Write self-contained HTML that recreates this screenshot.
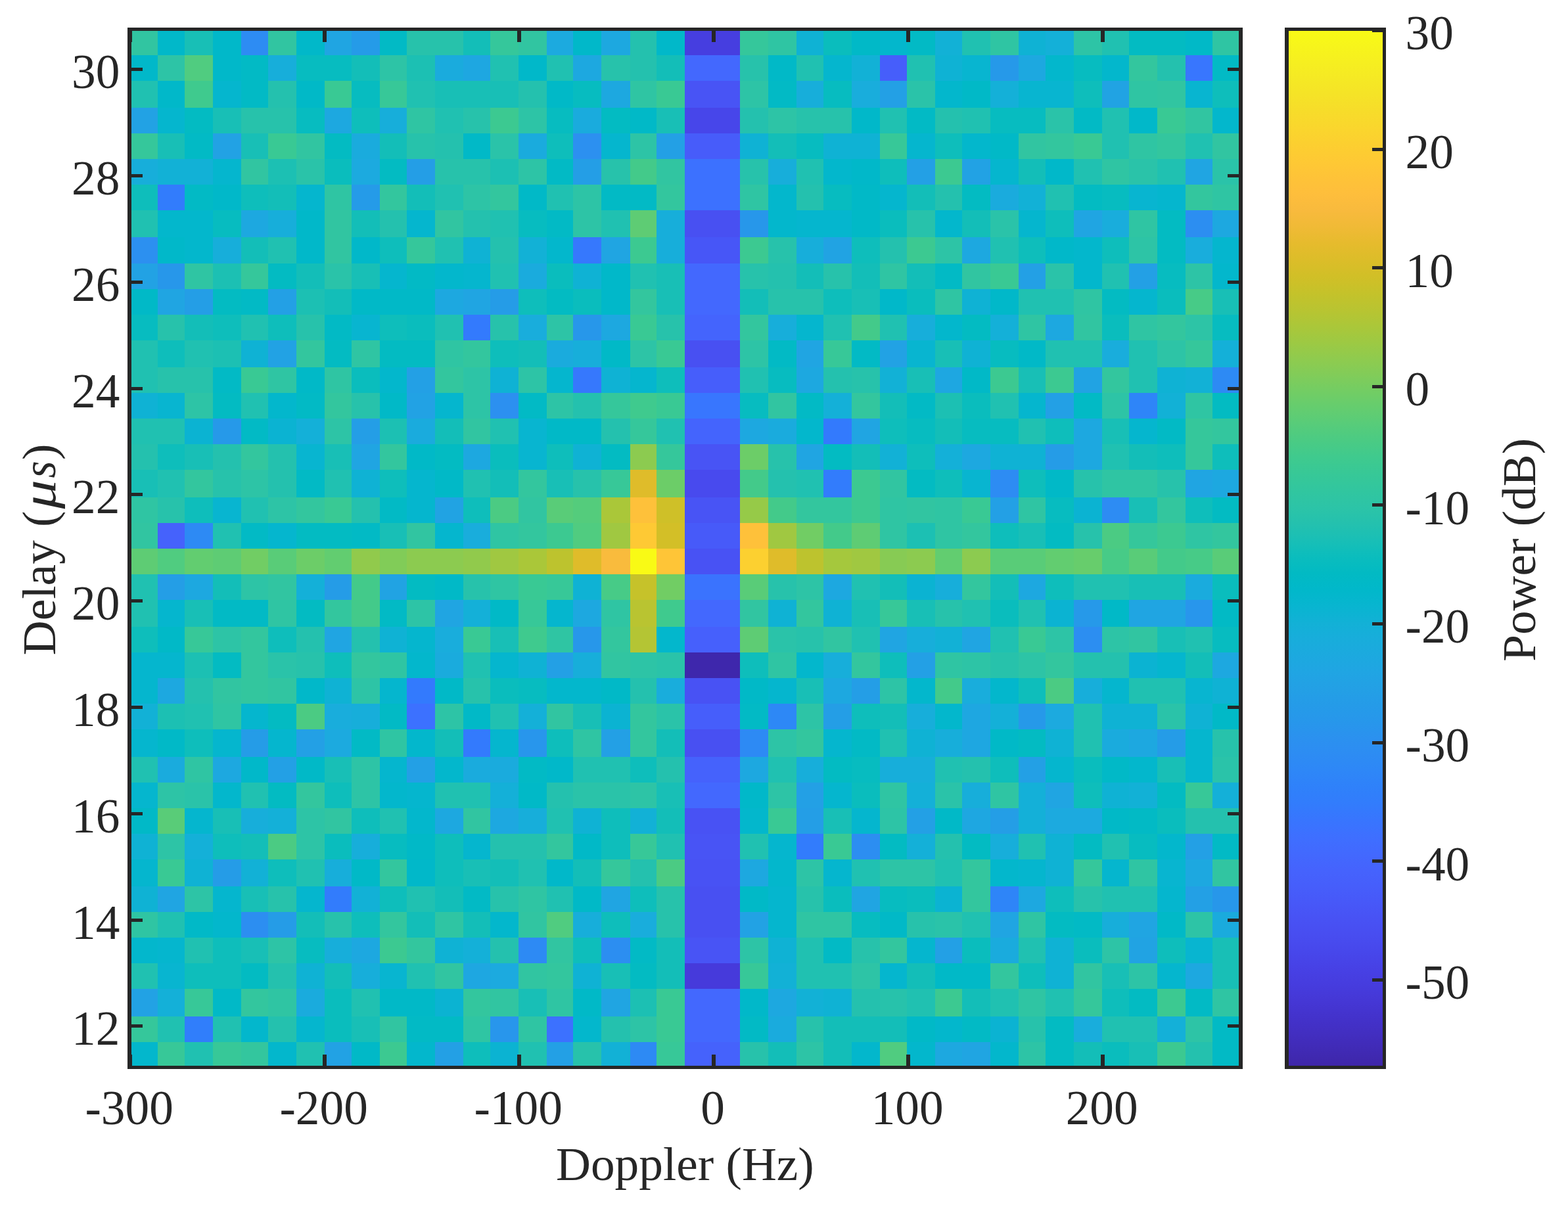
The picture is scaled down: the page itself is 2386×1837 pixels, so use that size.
<!DOCTYPE html>
<html lang="en"><head><meta charset="utf-8"><title>Delay-Doppler power map</title>
<style>
html,body{margin:0;padding:0;background:#fff;}
body{width:2386px;height:1837px;overflow:hidden;position:relative;}
svg{position:absolute;left:0;top:0;display:block;}
text{font-family:"Liberation Serif",serif;fill:#262626;}
.t{font-size:73.30px;}
.l{font-size:73.30px;}
.i{font-style:italic;}
</style></head><body>
<svg width="2386" height="1837" viewBox="0 0 2386 1837">
<rect x="0" y="0" width="2386" height="1837" fill="#fff"/>
<defs><linearGradient id="pg" x1="0" y1="1" x2="0" y2="0">
<stop offset="0.0000" stop-color="#3e26a8"/>
<stop offset="0.0159" stop-color="#402ab4"/>
<stop offset="0.0317" stop-color="#422ec0"/>
<stop offset="0.0476" stop-color="#4332cb"/>
<stop offset="0.0635" stop-color="#4537d5"/>
<stop offset="0.0794" stop-color="#463cde"/>
<stop offset="0.0952" stop-color="#4741e5"/>
<stop offset="0.1111" stop-color="#4747eb"/>
<stop offset="0.1270" stop-color="#484df0"/>
<stop offset="0.1429" stop-color="#4852f4"/>
<stop offset="0.1587" stop-color="#4758f8"/>
<stop offset="0.1746" stop-color="#465efb"/>
<stop offset="0.1905" stop-color="#4563fd"/>
<stop offset="0.2063" stop-color="#4269fe"/>
<stop offset="0.2222" stop-color="#3e6fff"/>
<stop offset="0.2381" stop-color="#3875fe"/>
<stop offset="0.2540" stop-color="#327cfc"/>
<stop offset="0.2698" stop-color="#2f81fa"/>
<stop offset="0.2857" stop-color="#2e87f7"/>
<stop offset="0.3016" stop-color="#2d8cf3"/>
<stop offset="0.3175" stop-color="#2b91ef"/>
<stop offset="0.3333" stop-color="#2797eb"/>
<stop offset="0.3492" stop-color="#259be8"/>
<stop offset="0.3651" stop-color="#23a0e5"/>
<stop offset="0.3810" stop-color="#20a5e3"/>
<stop offset="0.3968" stop-color="#1ca9df"/>
<stop offset="0.4127" stop-color="#18addb"/>
<stop offset="0.4286" stop-color="#12b1d6"/>
<stop offset="0.4444" stop-color="#08b5d0"/>
<stop offset="0.4603" stop-color="#01b8ca"/>
<stop offset="0.4762" stop-color="#02bac3"/>
<stop offset="0.4921" stop-color="#0bbdbd"/>
<stop offset="0.5079" stop-color="#19bfb6"/>
<stop offset="0.5238" stop-color="#24c1ae"/>
<stop offset="0.5397" stop-color="#2cc4a7"/>
<stop offset="0.5556" stop-color="#31c69f"/>
<stop offset="0.5714" stop-color="#37c897"/>
<stop offset="0.5873" stop-color="#3fca8e"/>
<stop offset="0.6032" stop-color="#4acb84"/>
<stop offset="0.6190" stop-color="#57cc7a"/>
<stop offset="0.6349" stop-color="#64cd6f"/>
<stop offset="0.6508" stop-color="#72cd64"/>
<stop offset="0.6667" stop-color="#81cc59"/>
<stop offset="0.6825" stop-color="#8fcb4e"/>
<stop offset="0.6984" stop-color="#9dc943"/>
<stop offset="0.7143" stop-color="#abc739"/>
<stop offset="0.7302" stop-color="#b9c431"/>
<stop offset="0.7460" stop-color="#c5c22a"/>
<stop offset="0.7619" stop-color="#d1bf27"/>
<stop offset="0.7778" stop-color="#dcbd29"/>
<stop offset="0.7937" stop-color="#e6bb2d"/>
<stop offset="0.8095" stop-color="#f0ba36"/>
<stop offset="0.8254" stop-color="#f8ba3d"/>
<stop offset="0.8413" stop-color="#febe3c"/>
<stop offset="0.8571" stop-color="#fec338"/>
<stop offset="0.8730" stop-color="#fec934"/>
<stop offset="0.8889" stop-color="#fccf30"/>
<stop offset="0.9048" stop-color="#fad62d"/>
<stop offset="0.9206" stop-color="#f7dc2a"/>
<stop offset="0.9365" stop-color="#f5e327"/>
<stop offset="0.9524" stop-color="#f5e924"/>
<stop offset="0.9683" stop-color="#f6ef20"/>
<stop offset="0.9841" stop-color="#f7f51b"/>
<stop offset="1.0000" stop-color="#f9fb15"/>
</linearGradient></defs>
<g shape-rendering="crispEdges">
<rect x="197" y="44" width="43" height="40" fill="#31c5a1"/>
<rect x="240" y="44" width="41" height="40" fill="#01b8c9"/>
<rect x="281" y="44" width="43" height="40" fill="#18bfb6"/>
<rect x="324" y="44" width="43" height="40" fill="#01b8c9"/>
<rect x="367" y="44" width="41" height="40" fill="#2d8cf3"/>
<rect x="408" y="44" width="43" height="40" fill="#31c5a1"/>
<rect x="451" y="44" width="43" height="40" fill="#01b8c9"/>
<rect x="494" y="44" width="41" height="40" fill="#20a5e2"/>
<rect x="535" y="44" width="43" height="40" fill="#259be8"/>
<rect x="578" y="44" width="41" height="40" fill="#02bac5"/>
<rect x="619" y="44" width="86" height="40" fill="#27c2ab"/>
<rect x="705" y="44" width="41" height="40" fill="#13beb8"/>
<rect x="746" y="44" width="43" height="40" fill="#35c79b"/>
<rect x="789" y="44" width="43" height="40" fill="#31c5a1"/>
<rect x="832" y="44" width="40" height="40" fill="#1caadf"/>
<rect x="872" y="44" width="43" height="40" fill="#01b8c9"/>
<rect x="915" y="44" width="44" height="40" fill="#1da8e0"/>
<rect x="959" y="44" width="40" height="40" fill="#24c1ae"/>
<rect x="999" y="44" width="43" height="40" fill="#01b8c9"/>
<rect x="1042" y="44" width="84" height="40" fill="#463ee0"/>
<rect x="1126" y="44" width="43" height="40" fill="#35c79b"/>
<rect x="1169" y="44" width="43" height="40" fill="#2fc5a3"/>
<rect x="1212" y="44" width="41" height="40" fill="#0fb2d4"/>
<rect x="1253" y="44" width="43" height="40" fill="#0abdbd"/>
<rect x="1296" y="44" width="43" height="40" fill="#01b9c7"/>
<rect x="1339" y="44" width="41" height="40" fill="#03b7cc"/>
<rect x="1380" y="44" width="43" height="40" fill="#02bac5"/>
<rect x="1423" y="44" width="41" height="40" fill="#12b1d6"/>
<rect x="1464" y="44" width="43" height="40" fill="#20c1b1"/>
<rect x="1507" y="44" width="43" height="40" fill="#2fc5a3"/>
<rect x="1550" y="44" width="41" height="40" fill="#0fb2d4"/>
<rect x="1591" y="44" width="43" height="40" fill="#14b0d8"/>
<rect x="1634" y="44" width="43" height="40" fill="#2dc4a6"/>
<rect x="1677" y="44" width="41" height="40" fill="#20c1b1"/>
<rect x="1718" y="44" width="86" height="40" fill="#03bbc2"/>
<rect x="1804" y="44" width="41" height="40" fill="#01b9c7"/>
<rect x="1845" y="44" width="43" height="40" fill="#2fc5a3"/>
<rect x="197" y="84" width="43" height="39" fill="#01b8c9"/>
<rect x="240" y="84" width="41" height="39" fill="#2dc4a6"/>
<rect x="281" y="84" width="43" height="39" fill="#50cc80"/>
<rect x="324" y="84" width="43" height="39" fill="#01b8c9"/>
<rect x="367" y="84" width="41" height="39" fill="#02bac5"/>
<rect x="408" y="84" width="43" height="39" fill="#17aeda"/>
<rect x="451" y="84" width="84" height="39" fill="#07bcc0"/>
<rect x="535" y="84" width="43" height="39" fill="#13beb8"/>
<rect x="578" y="84" width="41" height="39" fill="#2dc4a6"/>
<rect x="619" y="84" width="43" height="39" fill="#1cc0b3"/>
<rect x="662" y="84" width="43" height="39" fill="#1aabdd"/>
<rect x="705" y="84" width="41" height="39" fill="#1ea7e1"/>
<rect x="746" y="84" width="43" height="39" fill="#20c1b1"/>
<rect x="789" y="84" width="43" height="39" fill="#01b8c9"/>
<rect x="832" y="84" width="40" height="39" fill="#20c1b1"/>
<rect x="872" y="84" width="43" height="39" fill="#1da8e0"/>
<rect x="915" y="84" width="44" height="39" fill="#27c2ab"/>
<rect x="959" y="84" width="40" height="39" fill="#24c1ae"/>
<rect x="999" y="84" width="43" height="39" fill="#13beb8"/>
<rect x="1042" y="84" width="84" height="39" fill="#4368fe"/>
<rect x="1126" y="84" width="43" height="39" fill="#27c2ab"/>
<rect x="1169" y="84" width="43" height="39" fill="#01b9c7"/>
<rect x="1212" y="84" width="41" height="39" fill="#20c1b1"/>
<rect x="1253" y="84" width="43" height="39" fill="#05b6ce"/>
<rect x="1296" y="84" width="43" height="39" fill="#12b1d6"/>
<rect x="1339" y="84" width="41" height="39" fill="#465efb"/>
<rect x="1380" y="84" width="43" height="39" fill="#20c1b1"/>
<rect x="1423" y="84" width="41" height="39" fill="#0fb2d4"/>
<rect x="1464" y="84" width="43" height="39" fill="#08b5d0"/>
<rect x="1507" y="84" width="43" height="39" fill="#2699e9"/>
<rect x="1550" y="84" width="41" height="39" fill="#1da8e0"/>
<rect x="1591" y="84" width="43" height="39" fill="#03b7cc"/>
<rect x="1634" y="84" width="43" height="39" fill="#07bcc0"/>
<rect x="1677" y="84" width="41" height="39" fill="#03b7cc"/>
<rect x="1718" y="84" width="43" height="39" fill="#33c69e"/>
<rect x="1761" y="84" width="43" height="39" fill="#24c1ae"/>
<rect x="1804" y="84" width="41" height="39" fill="#3876fe"/>
<rect x="1845" y="84" width="43" height="39" fill="#02bac5"/>
<rect x="197" y="123" width="43" height="41" fill="#20c1b1"/>
<rect x="240" y="123" width="41" height="41" fill="#01b8c9"/>
<rect x="281" y="123" width="43" height="41" fill="#3fca8e"/>
<rect x="324" y="123" width="43" height="41" fill="#05b6ce"/>
<rect x="367" y="123" width="41" height="41" fill="#02bac5"/>
<rect x="408" y="123" width="43" height="41" fill="#24c1ae"/>
<rect x="451" y="123" width="43" height="41" fill="#01b9c7"/>
<rect x="494" y="123" width="41" height="41" fill="#39c994"/>
<rect x="535" y="123" width="43" height="41" fill="#07bcc0"/>
<rect x="578" y="123" width="41" height="41" fill="#37c898"/>
<rect x="619" y="123" width="43" height="41" fill="#20c1b1"/>
<rect x="662" y="123" width="127" height="41" fill="#18bfb6"/>
<rect x="789" y="123" width="43" height="41" fill="#24c1ae"/>
<rect x="832" y="123" width="40" height="41" fill="#01b9c7"/>
<rect x="872" y="123" width="43" height="41" fill="#07bcc0"/>
<rect x="915" y="123" width="44" height="41" fill="#1da8e0"/>
<rect x="959" y="123" width="40" height="41" fill="#2fc5a3"/>
<rect x="999" y="123" width="43" height="41" fill="#39c994"/>
<rect x="1042" y="123" width="84" height="41" fill="#4854f5"/>
<rect x="1126" y="123" width="43" height="41" fill="#2dc4a6"/>
<rect x="1169" y="123" width="43" height="41" fill="#02bac5"/>
<rect x="1212" y="123" width="41" height="41" fill="#17aeda"/>
<rect x="1253" y="123" width="43" height="41" fill="#07bcc0"/>
<rect x="1296" y="123" width="43" height="41" fill="#19addc"/>
<rect x="1339" y="123" width="41" height="41" fill="#23a0e5"/>
<rect x="1380" y="123" width="43" height="41" fill="#2ac3a9"/>
<rect x="1423" y="123" width="41" height="41" fill="#03b7cc"/>
<rect x="1464" y="123" width="43" height="41" fill="#01b9c7"/>
<rect x="1507" y="123" width="43" height="41" fill="#14b0d8"/>
<rect x="1550" y="123" width="84" height="41" fill="#08b5d0"/>
<rect x="1634" y="123" width="43" height="41" fill="#0ebebb"/>
<rect x="1677" y="123" width="41" height="41" fill="#21a3e3"/>
<rect x="1718" y="123" width="43" height="41" fill="#2fc5a3"/>
<rect x="1761" y="123" width="43" height="41" fill="#31c5a1"/>
<rect x="1804" y="123" width="41" height="41" fill="#08b5d0"/>
<rect x="1845" y="123" width="43" height="41" fill="#0ebebb"/>
<rect x="197" y="164" width="43" height="39" fill="#22a2e4"/>
<rect x="240" y="164" width="41" height="39" fill="#05b6ce"/>
<rect x="281" y="164" width="43" height="39" fill="#03bbc2"/>
<rect x="324" y="164" width="43" height="39" fill="#18bfb6"/>
<rect x="367" y="164" width="84" height="39" fill="#27c2ab"/>
<rect x="451" y="164" width="43" height="39" fill="#07bcc0"/>
<rect x="494" y="164" width="41" height="39" fill="#1da8e0"/>
<rect x="535" y="164" width="43" height="39" fill="#0ebebb"/>
<rect x="578" y="164" width="41" height="39" fill="#17aeda"/>
<rect x="619" y="164" width="43" height="39" fill="#2fc5a3"/>
<rect x="662" y="164" width="43" height="39" fill="#20c1b1"/>
<rect x="705" y="164" width="41" height="39" fill="#27c2ab"/>
<rect x="746" y="164" width="43" height="39" fill="#3cc991"/>
<rect x="789" y="164" width="43" height="39" fill="#2dc4a6"/>
<rect x="832" y="164" width="40" height="39" fill="#07bcc0"/>
<rect x="872" y="164" width="43" height="39" fill="#1aabdd"/>
<rect x="915" y="164" width="44" height="39" fill="#03bbc2"/>
<rect x="959" y="164" width="40" height="39" fill="#01b9c7"/>
<rect x="999" y="164" width="43" height="39" fill="#18bfb6"/>
<rect x="1042" y="164" width="84" height="39" fill="#4746ea"/>
<rect x="1126" y="164" width="43" height="39" fill="#24c1ae"/>
<rect x="1169" y="164" width="43" height="39" fill="#2dc4a6"/>
<rect x="1212" y="164" width="84" height="39" fill="#27c2ab"/>
<rect x="1296" y="164" width="43" height="39" fill="#01b8c9"/>
<rect x="1339" y="164" width="41" height="39" fill="#20c1b1"/>
<rect x="1380" y="164" width="43" height="39" fill="#02bac5"/>
<rect x="1423" y="164" width="41" height="39" fill="#24c1ae"/>
<rect x="1464" y="164" width="43" height="39" fill="#20c1b1"/>
<rect x="1507" y="164" width="84" height="39" fill="#07bcc0"/>
<rect x="1591" y="164" width="43" height="39" fill="#2ac3a9"/>
<rect x="1634" y="164" width="43" height="39" fill="#02bac5"/>
<rect x="1677" y="164" width="41" height="39" fill="#20c1b1"/>
<rect x="1718" y="164" width="43" height="39" fill="#01b8c9"/>
<rect x="1761" y="164" width="43" height="39" fill="#39c994"/>
<rect x="1804" y="164" width="41" height="39" fill="#31c5a1"/>
<rect x="1845" y="164" width="43" height="39" fill="#03b7cc"/>
<rect x="197" y="203" width="43" height="39" fill="#35c79b"/>
<rect x="240" y="203" width="41" height="39" fill="#18bfb6"/>
<rect x="281" y="203" width="43" height="39" fill="#02bac5"/>
<rect x="324" y="203" width="43" height="39" fill="#22a2e4"/>
<rect x="367" y="203" width="41" height="39" fill="#18bfb6"/>
<rect x="408" y="203" width="43" height="39" fill="#39c994"/>
<rect x="451" y="203" width="43" height="39" fill="#31c5a1"/>
<rect x="494" y="203" width="41" height="39" fill="#03bbc2"/>
<rect x="535" y="203" width="43" height="39" fill="#1aabdd"/>
<rect x="578" y="203" width="41" height="39" fill="#13beb8"/>
<rect x="619" y="203" width="43" height="39" fill="#27c2ab"/>
<rect x="662" y="203" width="43" height="39" fill="#24c1ae"/>
<rect x="705" y="203" width="41" height="39" fill="#01b9c7"/>
<rect x="746" y="203" width="43" height="39" fill="#2ac3a9"/>
<rect x="789" y="203" width="43" height="39" fill="#1aabdd"/>
<rect x="832" y="203" width="40" height="39" fill="#0ebebb"/>
<rect x="872" y="203" width="43" height="39" fill="#2c90f0"/>
<rect x="915" y="203" width="44" height="39" fill="#05b6ce"/>
<rect x="959" y="203" width="40" height="39" fill="#2dc4a6"/>
<rect x="999" y="203" width="43" height="39" fill="#23a0e5"/>
<rect x="1042" y="203" width="84" height="39" fill="#475cfa"/>
<rect x="1126" y="203" width="43" height="39" fill="#0fb2d4"/>
<rect x="1169" y="203" width="43" height="39" fill="#13beb8"/>
<rect x="1212" y="203" width="41" height="39" fill="#07bcc0"/>
<rect x="1253" y="203" width="86" height="39" fill="#0fb2d4"/>
<rect x="1339" y="203" width="41" height="39" fill="#37c898"/>
<rect x="1380" y="203" width="43" height="39" fill="#05b6ce"/>
<rect x="1423" y="203" width="41" height="39" fill="#0ebebb"/>
<rect x="1464" y="203" width="43" height="39" fill="#03b7cc"/>
<rect x="1507" y="203" width="43" height="39" fill="#01b9c7"/>
<rect x="1550" y="203" width="41" height="39" fill="#31c5a1"/>
<rect x="1591" y="203" width="43" height="39" fill="#33c69e"/>
<rect x="1634" y="203" width="43" height="39" fill="#39c994"/>
<rect x="1677" y="203" width="41" height="39" fill="#20c1b1"/>
<rect x="1718" y="203" width="43" height="39" fill="#2fc5a3"/>
<rect x="1761" y="203" width="43" height="39" fill="#33c69e"/>
<rect x="1804" y="203" width="41" height="39" fill="#20c1b1"/>
<rect x="1845" y="203" width="43" height="39" fill="#31c5a1"/>
<rect x="197" y="242" width="43" height="39" fill="#17aeda"/>
<rect x="240" y="242" width="84" height="39" fill="#12b1d6"/>
<rect x="324" y="242" width="43" height="39" fill="#05b6ce"/>
<rect x="367" y="242" width="41" height="39" fill="#31c5a1"/>
<rect x="408" y="242" width="43" height="39" fill="#1cc0b3"/>
<rect x="451" y="242" width="43" height="39" fill="#2ac3a9"/>
<rect x="494" y="242" width="41" height="39" fill="#0abdbd"/>
<rect x="535" y="242" width="43" height="39" fill="#1caadf"/>
<rect x="578" y="242" width="41" height="39" fill="#03bbc2"/>
<rect x="619" y="242" width="43" height="39" fill="#249ee6"/>
<rect x="662" y="242" width="84" height="39" fill="#27c2ab"/>
<rect x="746" y="242" width="43" height="39" fill="#1cc0b3"/>
<rect x="789" y="242" width="43" height="39" fill="#2dc4a6"/>
<rect x="832" y="242" width="40" height="39" fill="#02bac5"/>
<rect x="872" y="242" width="43" height="39" fill="#249ee6"/>
<rect x="915" y="242" width="44" height="39" fill="#27c2ab"/>
<rect x="959" y="242" width="40" height="39" fill="#43ca8a"/>
<rect x="999" y="242" width="43" height="39" fill="#31c5a1"/>
<rect x="1042" y="242" width="84" height="39" fill="#3c71ff"/>
<rect x="1126" y="242" width="43" height="39" fill="#27c2ab"/>
<rect x="1169" y="242" width="43" height="39" fill="#17aeda"/>
<rect x="1212" y="242" width="41" height="39" fill="#20c1b1"/>
<rect x="1253" y="242" width="43" height="39" fill="#03b7cc"/>
<rect x="1296" y="242" width="43" height="39" fill="#01b8c9"/>
<rect x="1339" y="242" width="41" height="39" fill="#0ebebb"/>
<rect x="1380" y="242" width="43" height="39" fill="#23a0e5"/>
<rect x="1423" y="242" width="41" height="39" fill="#3cc991"/>
<rect x="1464" y="242" width="43" height="39" fill="#22a2e4"/>
<rect x="1507" y="242" width="43" height="39" fill="#05b6ce"/>
<rect x="1550" y="242" width="41" height="39" fill="#13beb8"/>
<rect x="1591" y="242" width="43" height="39" fill="#01b8c9"/>
<rect x="1634" y="242" width="43" height="39" fill="#20c1b1"/>
<rect x="1677" y="242" width="41" height="39" fill="#2fc5a3"/>
<rect x="1718" y="242" width="43" height="39" fill="#2ac3a9"/>
<rect x="1761" y="242" width="43" height="39" fill="#20c1b1"/>
<rect x="1804" y="242" width="41" height="39" fill="#20a5e2"/>
<rect x="1845" y="242" width="43" height="39" fill="#2ac3a9"/>
<rect x="197" y="281" width="43" height="39" fill="#0ebebb"/>
<rect x="240" y="281" width="41" height="39" fill="#327cfc"/>
<rect x="281" y="281" width="43" height="39" fill="#02bac5"/>
<rect x="324" y="281" width="43" height="39" fill="#01b8c9"/>
<rect x="367" y="281" width="41" height="39" fill="#0ebebb"/>
<rect x="408" y="281" width="43" height="39" fill="#13beb8"/>
<rect x="451" y="281" width="43" height="39" fill="#05b6ce"/>
<rect x="494" y="281" width="41" height="39" fill="#2fc5a3"/>
<rect x="535" y="281" width="43" height="39" fill="#259be8"/>
<rect x="578" y="281" width="41" height="39" fill="#33c69e"/>
<rect x="619" y="281" width="43" height="39" fill="#13beb8"/>
<rect x="662" y="281" width="43" height="39" fill="#20c1b1"/>
<rect x="705" y="281" width="41" height="39" fill="#2dc4a6"/>
<rect x="746" y="281" width="43" height="39" fill="#33c69e"/>
<rect x="789" y="281" width="43" height="39" fill="#01b9c7"/>
<rect x="832" y="281" width="40" height="39" fill="#20c1b1"/>
<rect x="872" y="281" width="43" height="39" fill="#2dc4a6"/>
<rect x="915" y="281" width="84" height="39" fill="#02bac5"/>
<rect x="999" y="281" width="43" height="39" fill="#33c69e"/>
<rect x="1042" y="281" width="84" height="39" fill="#3c71ff"/>
<rect x="1126" y="281" width="43" height="39" fill="#2fc5a3"/>
<rect x="1169" y="281" width="43" height="39" fill="#03b7cc"/>
<rect x="1212" y="281" width="41" height="39" fill="#24c1ae"/>
<rect x="1253" y="281" width="43" height="39" fill="#07bcc0"/>
<rect x="1296" y="281" width="43" height="39" fill="#01b9c7"/>
<rect x="1339" y="281" width="41" height="39" fill="#05b6ce"/>
<rect x="1380" y="281" width="43" height="39" fill="#13beb8"/>
<rect x="1423" y="281" width="41" height="39" fill="#24c1ae"/>
<rect x="1464" y="281" width="43" height="39" fill="#03bbc2"/>
<rect x="1507" y="281" width="43" height="39" fill="#1aabdd"/>
<rect x="1550" y="281" width="41" height="39" fill="#12b1d6"/>
<rect x="1591" y="281" width="43" height="39" fill="#20c1b1"/>
<rect x="1634" y="281" width="43" height="39" fill="#03bbc2"/>
<rect x="1677" y="281" width="41" height="39" fill="#07bcc0"/>
<rect x="1718" y="281" width="43" height="39" fill="#08b5d0"/>
<rect x="1761" y="281" width="43" height="39" fill="#05b6ce"/>
<rect x="1804" y="281" width="41" height="39" fill="#33c69e"/>
<rect x="1845" y="281" width="43" height="39" fill="#2fc5a3"/>
<rect x="197" y="320" width="43" height="41" fill="#20c1b1"/>
<rect x="240" y="320" width="84" height="41" fill="#03b7cc"/>
<rect x="324" y="320" width="43" height="41" fill="#07bcc0"/>
<rect x="367" y="320" width="41" height="41" fill="#1da8e0"/>
<rect x="408" y="320" width="43" height="41" fill="#17aeda"/>
<rect x="451" y="320" width="43" height="41" fill="#01b8c9"/>
<rect x="494" y="320" width="41" height="41" fill="#31c5a1"/>
<rect x="535" y="320" width="43" height="41" fill="#13beb8"/>
<rect x="578" y="320" width="41" height="41" fill="#24c1ae"/>
<rect x="619" y="320" width="43" height="41" fill="#05b6ce"/>
<rect x="662" y="320" width="43" height="41" fill="#31c5a1"/>
<rect x="705" y="320" width="41" height="41" fill="#24c1ae"/>
<rect x="746" y="320" width="43" height="41" fill="#20c1b1"/>
<rect x="789" y="320" width="43" height="41" fill="#07bcc0"/>
<rect x="832" y="320" width="40" height="41" fill="#02bac5"/>
<rect x="872" y="320" width="43" height="41" fill="#2dc4a6"/>
<rect x="915" y="320" width="44" height="41" fill="#20c1b1"/>
<rect x="959" y="320" width="40" height="41" fill="#5ecc74"/>
<rect x="999" y="320" width="43" height="41" fill="#17aeda"/>
<rect x="1042" y="320" width="84" height="41" fill="#4850f2"/>
<rect x="1126" y="320" width="43" height="41" fill="#2797ea"/>
<rect x="1169" y="320" width="43" height="41" fill="#03b7cc"/>
<rect x="1212" y="320" width="84" height="41" fill="#05b6ce"/>
<rect x="1296" y="320" width="43" height="41" fill="#01b9c7"/>
<rect x="1339" y="320" width="41" height="41" fill="#0abdbd"/>
<rect x="1380" y="320" width="43" height="41" fill="#27c2ab"/>
<rect x="1423" y="320" width="41" height="41" fill="#03b7cc"/>
<rect x="1464" y="320" width="43" height="41" fill="#13beb8"/>
<rect x="1507" y="320" width="43" height="41" fill="#2ac3a9"/>
<rect x="1550" y="320" width="41" height="41" fill="#05b6ce"/>
<rect x="1591" y="320" width="43" height="41" fill="#0ebebb"/>
<rect x="1634" y="320" width="43" height="41" fill="#20a5e2"/>
<rect x="1677" y="320" width="41" height="41" fill="#19addc"/>
<rect x="1718" y="320" width="43" height="41" fill="#2fc5a3"/>
<rect x="1761" y="320" width="43" height="41" fill="#03bbc2"/>
<rect x="1804" y="320" width="41" height="41" fill="#2c8ef1"/>
<rect x="1845" y="320" width="43" height="41" fill="#1da8e0"/>
<rect x="197" y="361" width="43" height="40" fill="#2c90f0"/>
<rect x="240" y="361" width="41" height="40" fill="#01b8c9"/>
<rect x="281" y="361" width="43" height="40" fill="#03b7cc"/>
<rect x="324" y="361" width="43" height="40" fill="#17aeda"/>
<rect x="367" y="361" width="41" height="40" fill="#13beb8"/>
<rect x="408" y="361" width="43" height="40" fill="#20c1b1"/>
<rect x="451" y="361" width="43" height="40" fill="#01b8c9"/>
<rect x="494" y="361" width="41" height="40" fill="#31c5a1"/>
<rect x="535" y="361" width="43" height="40" fill="#01b8c9"/>
<rect x="578" y="361" width="41" height="40" fill="#0ebebb"/>
<rect x="619" y="361" width="43" height="40" fill="#35c79b"/>
<rect x="662" y="361" width="43" height="40" fill="#20c1b1"/>
<rect x="705" y="361" width="41" height="40" fill="#0fb2d4"/>
<rect x="746" y="361" width="43" height="40" fill="#24c1ae"/>
<rect x="789" y="361" width="43" height="40" fill="#12b1d6"/>
<rect x="832" y="361" width="40" height="40" fill="#03b7cc"/>
<rect x="872" y="361" width="43" height="40" fill="#3678fd"/>
<rect x="915" y="361" width="44" height="40" fill="#20a5e2"/>
<rect x="959" y="361" width="40" height="40" fill="#3cc991"/>
<rect x="999" y="361" width="43" height="40" fill="#17aeda"/>
<rect x="1042" y="361" width="84" height="40" fill="#4756f7"/>
<rect x="1126" y="361" width="43" height="40" fill="#3cc991"/>
<rect x="1169" y="361" width="43" height="40" fill="#27c2ab"/>
<rect x="1212" y="361" width="41" height="40" fill="#17aeda"/>
<rect x="1253" y="361" width="43" height="40" fill="#21a3e3"/>
<rect x="1296" y="361" width="43" height="40" fill="#0ebebb"/>
<rect x="1339" y="361" width="41" height="40" fill="#24c1ae"/>
<rect x="1380" y="361" width="43" height="40" fill="#3cc991"/>
<rect x="1423" y="361" width="41" height="40" fill="#2dc4a6"/>
<rect x="1464" y="361" width="43" height="40" fill="#1da8e0"/>
<rect x="1507" y="361" width="43" height="40" fill="#20c1b1"/>
<rect x="1550" y="361" width="41" height="40" fill="#0ebebb"/>
<rect x="1591" y="361" width="43" height="40" fill="#01b8c9"/>
<rect x="1634" y="361" width="43" height="40" fill="#03b7cc"/>
<rect x="1677" y="361" width="41" height="40" fill="#0ebebb"/>
<rect x="1718" y="361" width="43" height="40" fill="#2dc4a6"/>
<rect x="1761" y="361" width="43" height="40" fill="#03bbc2"/>
<rect x="1804" y="361" width="41" height="40" fill="#19addc"/>
<rect x="1845" y="361" width="43" height="40" fill="#05b6ce"/>
<rect x="197" y="401" width="43" height="39" fill="#22a2e4"/>
<rect x="240" y="401" width="41" height="39" fill="#2797ea"/>
<rect x="281" y="401" width="43" height="39" fill="#2fc5a3"/>
<rect x="324" y="401" width="43" height="39" fill="#1cc0b3"/>
<rect x="367" y="401" width="41" height="39" fill="#35c79b"/>
<rect x="408" y="401" width="43" height="39" fill="#03bbc2"/>
<rect x="451" y="401" width="43" height="39" fill="#13beb8"/>
<rect x="494" y="401" width="41" height="39" fill="#2ac3a9"/>
<rect x="535" y="401" width="43" height="39" fill="#18bfb6"/>
<rect x="578" y="401" width="41" height="39" fill="#05b6ce"/>
<rect x="619" y="401" width="43" height="39" fill="#02bac5"/>
<rect x="662" y="401" width="43" height="39" fill="#03b7cc"/>
<rect x="705" y="401" width="41" height="39" fill="#05b6ce"/>
<rect x="746" y="401" width="43" height="39" fill="#20c1b1"/>
<rect x="789" y="401" width="43" height="39" fill="#1aabdd"/>
<rect x="832" y="401" width="40" height="39" fill="#0abdbd"/>
<rect x="872" y="401" width="43" height="39" fill="#0fb2d4"/>
<rect x="915" y="401" width="44" height="39" fill="#01b8c9"/>
<rect x="959" y="401" width="40" height="39" fill="#20c1b1"/>
<rect x="999" y="401" width="43" height="39" fill="#18bfb6"/>
<rect x="1042" y="401" width="84" height="39" fill="#4368fe"/>
<rect x="1126" y="401" width="43" height="39" fill="#27c2ab"/>
<rect x="1169" y="401" width="43" height="39" fill="#24c1ae"/>
<rect x="1212" y="401" width="41" height="39" fill="#13beb8"/>
<rect x="1253" y="401" width="43" height="39" fill="#27c2ab"/>
<rect x="1296" y="401" width="43" height="39" fill="#13beb8"/>
<rect x="1339" y="401" width="41" height="39" fill="#2fc5a3"/>
<rect x="1380" y="401" width="43" height="39" fill="#13beb8"/>
<rect x="1423" y="401" width="41" height="39" fill="#02bac5"/>
<rect x="1464" y="401" width="43" height="39" fill="#31c5a1"/>
<rect x="1507" y="401" width="43" height="39" fill="#39c994"/>
<rect x="1550" y="401" width="41" height="39" fill="#23a0e5"/>
<rect x="1591" y="401" width="43" height="39" fill="#2ac3a9"/>
<rect x="1634" y="401" width="43" height="39" fill="#03b7cc"/>
<rect x="1677" y="401" width="41" height="39" fill="#20c1b1"/>
<rect x="1718" y="401" width="43" height="39" fill="#23a0e5"/>
<rect x="1761" y="401" width="43" height="39" fill="#07bcc0"/>
<rect x="1804" y="401" width="41" height="39" fill="#2dc4a6"/>
<rect x="1845" y="401" width="43" height="39" fill="#03b7cc"/>
<rect x="197" y="440" width="43" height="39" fill="#01b9c7"/>
<rect x="240" y="440" width="41" height="39" fill="#20a5e2"/>
<rect x="281" y="440" width="43" height="39" fill="#249ee6"/>
<rect x="324" y="440" width="43" height="39" fill="#03bbc2"/>
<rect x="367" y="440" width="41" height="39" fill="#02bac5"/>
<rect x="408" y="440" width="43" height="39" fill="#23a0e5"/>
<rect x="451" y="440" width="43" height="39" fill="#1cc0b3"/>
<rect x="494" y="440" width="41" height="39" fill="#13beb8"/>
<rect x="535" y="440" width="127" height="39" fill="#01b9c7"/>
<rect x="662" y="440" width="43" height="39" fill="#1da8e0"/>
<rect x="705" y="440" width="41" height="39" fill="#20a5e2"/>
<rect x="746" y="440" width="43" height="39" fill="#259ce7"/>
<rect x="789" y="440" width="43" height="39" fill="#0ebebb"/>
<rect x="832" y="440" width="40" height="39" fill="#03bbc2"/>
<rect x="872" y="440" width="43" height="39" fill="#0abdbd"/>
<rect x="915" y="440" width="44" height="39" fill="#01b8c9"/>
<rect x="959" y="440" width="40" height="39" fill="#33c69e"/>
<rect x="999" y="440" width="43" height="39" fill="#18bfb6"/>
<rect x="1042" y="440" width="84" height="39" fill="#4368fe"/>
<rect x="1126" y="440" width="43" height="39" fill="#13beb8"/>
<rect x="1169" y="440" width="84" height="39" fill="#27c2ab"/>
<rect x="1253" y="440" width="43" height="39" fill="#0ebebb"/>
<rect x="1296" y="440" width="43" height="39" fill="#18bfb6"/>
<rect x="1339" y="440" width="41" height="39" fill="#01b8c9"/>
<rect x="1380" y="440" width="43" height="39" fill="#0abdbd"/>
<rect x="1423" y="440" width="41" height="39" fill="#2fc5a3"/>
<rect x="1464" y="440" width="43" height="39" fill="#0fb2d4"/>
<rect x="1507" y="440" width="43" height="39" fill="#01b8c9"/>
<rect x="1550" y="440" width="84" height="39" fill="#20c1b1"/>
<rect x="1634" y="440" width="43" height="39" fill="#2fc5a3"/>
<rect x="1677" y="440" width="41" height="39" fill="#03bbc2"/>
<rect x="1718" y="440" width="43" height="39" fill="#05b6ce"/>
<rect x="1761" y="440" width="43" height="39" fill="#0abdbd"/>
<rect x="1804" y="440" width="41" height="39" fill="#47cb87"/>
<rect x="1845" y="440" width="43" height="39" fill="#18bfb6"/>
<rect x="197" y="479" width="43" height="39" fill="#07bcc0"/>
<rect x="240" y="479" width="41" height="39" fill="#27c2ab"/>
<rect x="281" y="479" width="43" height="39" fill="#13beb8"/>
<rect x="324" y="479" width="43" height="39" fill="#0ebebb"/>
<rect x="367" y="479" width="41" height="39" fill="#20c1b1"/>
<rect x="408" y="479" width="43" height="39" fill="#0ebebb"/>
<rect x="451" y="479" width="43" height="39" fill="#27c2ab"/>
<rect x="494" y="479" width="41" height="39" fill="#02bac5"/>
<rect x="535" y="479" width="43" height="39" fill="#08b5d0"/>
<rect x="578" y="479" width="41" height="39" fill="#0ebebb"/>
<rect x="619" y="479" width="43" height="39" fill="#0abdbd"/>
<rect x="662" y="479" width="43" height="39" fill="#20c1b1"/>
<rect x="705" y="479" width="41" height="39" fill="#337afd"/>
<rect x="746" y="479" width="43" height="39" fill="#27c2ab"/>
<rect x="789" y="479" width="43" height="39" fill="#19addc"/>
<rect x="832" y="479" width="40" height="39" fill="#2dc4a6"/>
<rect x="872" y="479" width="43" height="39" fill="#2797ea"/>
<rect x="915" y="479" width="44" height="39" fill="#1da8e0"/>
<rect x="959" y="479" width="40" height="39" fill="#39c994"/>
<rect x="999" y="479" width="43" height="39" fill="#27c2ab"/>
<rect x="1042" y="479" width="84" height="39" fill="#4464fd"/>
<rect x="1126" y="479" width="43" height="39" fill="#33c69e"/>
<rect x="1169" y="479" width="43" height="39" fill="#17aeda"/>
<rect x="1212" y="479" width="41" height="39" fill="#05b6ce"/>
<rect x="1253" y="479" width="43" height="39" fill="#20c1b1"/>
<rect x="1296" y="479" width="43" height="39" fill="#43ca8a"/>
<rect x="1339" y="479" width="41" height="39" fill="#20c1b1"/>
<rect x="1380" y="479" width="43" height="39" fill="#17aeda"/>
<rect x="1423" y="479" width="41" height="39" fill="#03b7cc"/>
<rect x="1464" y="479" width="43" height="39" fill="#03bbc2"/>
<rect x="1507" y="479" width="43" height="39" fill="#14b0d8"/>
<rect x="1550" y="479" width="41" height="39" fill="#2fc5a3"/>
<rect x="1591" y="479" width="43" height="39" fill="#1da8e0"/>
<rect x="1634" y="479" width="43" height="39" fill="#31c5a1"/>
<rect x="1677" y="479" width="41" height="39" fill="#0abdbd"/>
<rect x="1718" y="479" width="43" height="39" fill="#2fc5a3"/>
<rect x="1761" y="479" width="43" height="39" fill="#33c69e"/>
<rect x="1804" y="479" width="41" height="39" fill="#2dc4a6"/>
<rect x="1845" y="479" width="43" height="39" fill="#07bcc0"/>
<rect x="197" y="518" width="43" height="41" fill="#20c1b1"/>
<rect x="240" y="518" width="41" height="41" fill="#0ebebb"/>
<rect x="281" y="518" width="43" height="41" fill="#20c1b1"/>
<rect x="324" y="518" width="43" height="41" fill="#1cc0b3"/>
<rect x="367" y="518" width="41" height="41" fill="#0fb2d4"/>
<rect x="408" y="518" width="43" height="41" fill="#22a2e4"/>
<rect x="451" y="518" width="43" height="41" fill="#33c69e"/>
<rect x="494" y="518" width="41" height="41" fill="#03bbc2"/>
<rect x="535" y="518" width="43" height="41" fill="#2fc5a3"/>
<rect x="578" y="518" width="84" height="41" fill="#03bbc2"/>
<rect x="662" y="518" width="43" height="41" fill="#2fc5a3"/>
<rect x="705" y="518" width="41" height="41" fill="#33c69e"/>
<rect x="746" y="518" width="43" height="41" fill="#0ebebb"/>
<rect x="789" y="518" width="43" height="41" fill="#13beb8"/>
<rect x="832" y="518" width="40" height="41" fill="#1aabdd"/>
<rect x="872" y="518" width="43" height="41" fill="#17aeda"/>
<rect x="915" y="518" width="44" height="41" fill="#01b9c7"/>
<rect x="959" y="518" width="40" height="41" fill="#2dc4a6"/>
<rect x="999" y="518" width="43" height="41" fill="#39c994"/>
<rect x="1042" y="518" width="84" height="41" fill="#4850f2"/>
<rect x="1126" y="518" width="43" height="41" fill="#2dc4a6"/>
<rect x="1169" y="518" width="43" height="41" fill="#02bac5"/>
<rect x="1212" y="518" width="41" height="41" fill="#20a5e2"/>
<rect x="1253" y="518" width="43" height="41" fill="#37c898"/>
<rect x="1296" y="518" width="43" height="41" fill="#02bac5"/>
<rect x="1339" y="518" width="41" height="41" fill="#22a2e4"/>
<rect x="1380" y="518" width="43" height="41" fill="#08b5d0"/>
<rect x="1423" y="518" width="41" height="41" fill="#18bfb6"/>
<rect x="1464" y="518" width="43" height="41" fill="#0fb2d4"/>
<rect x="1507" y="518" width="43" height="41" fill="#07bcc0"/>
<rect x="1550" y="518" width="41" height="41" fill="#01b9c7"/>
<rect x="1591" y="518" width="86" height="41" fill="#20c1b1"/>
<rect x="1677" y="518" width="41" height="41" fill="#19addc"/>
<rect x="1718" y="518" width="43" height="41" fill="#20c1b1"/>
<rect x="1761" y="518" width="43" height="41" fill="#2dc4a6"/>
<rect x="1804" y="518" width="41" height="41" fill="#35c79b"/>
<rect x="1845" y="518" width="43" height="41" fill="#14b0d8"/>
<rect x="197" y="559" width="43" height="39" fill="#20c1b1"/>
<rect x="240" y="559" width="84" height="39" fill="#27c2ab"/>
<rect x="324" y="559" width="43" height="39" fill="#02bac5"/>
<rect x="367" y="559" width="41" height="39" fill="#39c994"/>
<rect x="408" y="559" width="43" height="39" fill="#2fc5a3"/>
<rect x="451" y="559" width="43" height="39" fill="#01b9c7"/>
<rect x="494" y="559" width="41" height="39" fill="#2fc5a3"/>
<rect x="535" y="559" width="43" height="39" fill="#0abdbd"/>
<rect x="578" y="559" width="41" height="39" fill="#03b7cc"/>
<rect x="619" y="559" width="43" height="39" fill="#23a0e5"/>
<rect x="662" y="559" width="43" height="39" fill="#33c69e"/>
<rect x="705" y="559" width="41" height="39" fill="#2dc4a6"/>
<rect x="746" y="559" width="43" height="39" fill="#0fb2d4"/>
<rect x="789" y="559" width="43" height="39" fill="#2dc4a6"/>
<rect x="832" y="559" width="40" height="39" fill="#05b6ce"/>
<rect x="872" y="559" width="43" height="39" fill="#3678fd"/>
<rect x="915" y="559" width="44" height="39" fill="#0fb2d4"/>
<rect x="959" y="559" width="40" height="39" fill="#05b6ce"/>
<rect x="999" y="559" width="43" height="39" fill="#0ebebb"/>
<rect x="1042" y="559" width="84" height="39" fill="#465efb"/>
<rect x="1126" y="559" width="43" height="39" fill="#20c1b1"/>
<rect x="1169" y="559" width="43" height="39" fill="#07bcc0"/>
<rect x="1212" y="559" width="41" height="39" fill="#1da8e0"/>
<rect x="1253" y="559" width="43" height="39" fill="#24c1ae"/>
<rect x="1296" y="559" width="43" height="39" fill="#27c2ab"/>
<rect x="1339" y="559" width="41" height="39" fill="#12b1d6"/>
<rect x="1380" y="559" width="43" height="39" fill="#18bfb6"/>
<rect x="1423" y="559" width="41" height="39" fill="#1ea7e1"/>
<rect x="1464" y="559" width="43" height="39" fill="#01b9c7"/>
<rect x="1507" y="559" width="43" height="39" fill="#3cc991"/>
<rect x="1550" y="559" width="41" height="39" fill="#18bfb6"/>
<rect x="1591" y="559" width="43" height="39" fill="#3cc991"/>
<rect x="1634" y="559" width="43" height="39" fill="#21a3e3"/>
<rect x="1677" y="559" width="41" height="39" fill="#33c69e"/>
<rect x="1718" y="559" width="43" height="39" fill="#20c1b1"/>
<rect x="1761" y="559" width="43" height="39" fill="#0fb2d4"/>
<rect x="1804" y="559" width="41" height="39" fill="#12b1d6"/>
<rect x="1845" y="559" width="43" height="39" fill="#2d8af4"/>
<rect x="197" y="598" width="43" height="39" fill="#0fb2d4"/>
<rect x="240" y="598" width="41" height="39" fill="#08b5d0"/>
<rect x="281" y="598" width="43" height="39" fill="#2dc4a6"/>
<rect x="324" y="598" width="43" height="39" fill="#03bbc2"/>
<rect x="367" y="598" width="41" height="39" fill="#20c1b1"/>
<rect x="408" y="598" width="43" height="39" fill="#03b7cc"/>
<rect x="451" y="598" width="43" height="39" fill="#02bac5"/>
<rect x="494" y="598" width="41" height="39" fill="#33c69e"/>
<rect x="535" y="598" width="43" height="39" fill="#27c2ab"/>
<rect x="578" y="598" width="41" height="39" fill="#01b9c7"/>
<rect x="619" y="598" width="43" height="39" fill="#22a2e4"/>
<rect x="662" y="598" width="43" height="39" fill="#05b6ce"/>
<rect x="705" y="598" width="41" height="39" fill="#2dc4a6"/>
<rect x="746" y="598" width="43" height="39" fill="#2c90f0"/>
<rect x="789" y="598" width="43" height="39" fill="#02bac5"/>
<rect x="832" y="598" width="40" height="39" fill="#2dc4a6"/>
<rect x="872" y="598" width="43" height="39" fill="#24c1ae"/>
<rect x="915" y="598" width="44" height="39" fill="#35c79b"/>
<rect x="959" y="598" width="40" height="39" fill="#3fca8e"/>
<rect x="999" y="598" width="43" height="39" fill="#39c994"/>
<rect x="1042" y="598" width="84" height="39" fill="#3876fe"/>
<rect x="1126" y="598" width="43" height="39" fill="#07bcc0"/>
<rect x="1169" y="598" width="43" height="39" fill="#31c5a1"/>
<rect x="1212" y="598" width="41" height="39" fill="#02bac5"/>
<rect x="1253" y="598" width="43" height="39" fill="#14b0d8"/>
<rect x="1296" y="598" width="43" height="39" fill="#33c69e"/>
<rect x="1339" y="598" width="41" height="39" fill="#13beb8"/>
<rect x="1380" y="598" width="43" height="39" fill="#02bac5"/>
<rect x="1423" y="598" width="41" height="39" fill="#1cc0b3"/>
<rect x="1464" y="598" width="43" height="39" fill="#0abdbd"/>
<rect x="1507" y="598" width="43" height="39" fill="#20c1b1"/>
<rect x="1550" y="598" width="41" height="39" fill="#05b6ce"/>
<rect x="1591" y="598" width="43" height="39" fill="#23a0e5"/>
<rect x="1634" y="598" width="43" height="39" fill="#02bac5"/>
<rect x="1677" y="598" width="41" height="39" fill="#2dc4a6"/>
<rect x="1718" y="598" width="43" height="39" fill="#2e85f8"/>
<rect x="1761" y="598" width="43" height="39" fill="#12b1d6"/>
<rect x="1804" y="598" width="41" height="39" fill="#2fc5a3"/>
<rect x="1845" y="598" width="43" height="39" fill="#03bbc2"/>
<rect x="197" y="637" width="84" height="39" fill="#20c1b1"/>
<rect x="281" y="637" width="43" height="39" fill="#0bb3d2"/>
<rect x="324" y="637" width="43" height="39" fill="#2699e9"/>
<rect x="367" y="637" width="41" height="39" fill="#02bac5"/>
<rect x="408" y="637" width="43" height="39" fill="#0bb3d2"/>
<rect x="451" y="637" width="43" height="39" fill="#14b0d8"/>
<rect x="494" y="637" width="41" height="39" fill="#2dc4a6"/>
<rect x="535" y="637" width="43" height="39" fill="#249ee6"/>
<rect x="578" y="637" width="41" height="39" fill="#1cc0b3"/>
<rect x="619" y="637" width="43" height="39" fill="#1aabdd"/>
<rect x="662" y="637" width="43" height="39" fill="#13beb8"/>
<rect x="705" y="637" width="41" height="39" fill="#31c5a1"/>
<rect x="746" y="637" width="43" height="39" fill="#20c1b1"/>
<rect x="789" y="637" width="43" height="39" fill="#08b5d0"/>
<rect x="832" y="637" width="83" height="39" fill="#01b9c7"/>
<rect x="915" y="637" width="44" height="39" fill="#24c1ae"/>
<rect x="959" y="637" width="40" height="39" fill="#35c79b"/>
<rect x="999" y="637" width="43" height="39" fill="#20c1b1"/>
<rect x="1042" y="637" width="84" height="39" fill="#4464fd"/>
<rect x="1126" y="637" width="43" height="39" fill="#1da8e0"/>
<rect x="1169" y="637" width="43" height="39" fill="#1aabdd"/>
<rect x="1212" y="637" width="41" height="39" fill="#03b7cc"/>
<rect x="1253" y="637" width="43" height="39" fill="#337afd"/>
<rect x="1296" y="637" width="43" height="39" fill="#20a5e2"/>
<rect x="1339" y="637" width="41" height="39" fill="#0ebebb"/>
<rect x="1380" y="637" width="43" height="39" fill="#07bcc0"/>
<rect x="1423" y="637" width="41" height="39" fill="#13beb8"/>
<rect x="1464" y="637" width="86" height="39" fill="#07bcc0"/>
<rect x="1550" y="637" width="41" height="39" fill="#20c1b1"/>
<rect x="1591" y="637" width="43" height="39" fill="#0ebebb"/>
<rect x="1634" y="637" width="43" height="39" fill="#1da8e0"/>
<rect x="1677" y="637" width="41" height="39" fill="#18bfb6"/>
<rect x="1718" y="637" width="43" height="39" fill="#05b6ce"/>
<rect x="1761" y="637" width="43" height="39" fill="#02bac5"/>
<rect x="1804" y="637" width="41" height="39" fill="#35c79b"/>
<rect x="1845" y="637" width="43" height="39" fill="#33c69e"/>
<rect x="197" y="676" width="43" height="39" fill="#24c1ae"/>
<rect x="240" y="676" width="41" height="39" fill="#0ebebb"/>
<rect x="281" y="676" width="43" height="39" fill="#18bfb6"/>
<rect x="324" y="676" width="43" height="39" fill="#24c1ae"/>
<rect x="367" y="676" width="41" height="39" fill="#33c69e"/>
<rect x="408" y="676" width="43" height="39" fill="#24c1ae"/>
<rect x="451" y="676" width="43" height="39" fill="#08b5d0"/>
<rect x="494" y="676" width="41" height="39" fill="#18bfb6"/>
<rect x="535" y="676" width="43" height="39" fill="#20a5e2"/>
<rect x="578" y="676" width="41" height="39" fill="#33c69e"/>
<rect x="619" y="676" width="43" height="39" fill="#01b9c7"/>
<rect x="662" y="676" width="43" height="39" fill="#03bbc2"/>
<rect x="705" y="676" width="41" height="39" fill="#1da8e0"/>
<rect x="746" y="676" width="43" height="39" fill="#0abdbd"/>
<rect x="789" y="676" width="43" height="39" fill="#08b5d0"/>
<rect x="832" y="676" width="40" height="39" fill="#0ebebb"/>
<rect x="872" y="676" width="43" height="39" fill="#0fb2d4"/>
<rect x="915" y="676" width="44" height="39" fill="#03bbc2"/>
<rect x="959" y="676" width="40" height="39" fill="#8ccb50"/>
<rect x="999" y="676" width="43" height="39" fill="#35c79b"/>
<rect x="1042" y="676" width="84" height="39" fill="#4854f5"/>
<rect x="1126" y="676" width="43" height="39" fill="#6ccd68"/>
<rect x="1169" y="676" width="43" height="39" fill="#27c2ab"/>
<rect x="1212" y="676" width="41" height="39" fill="#20a5e2"/>
<rect x="1253" y="676" width="43" height="39" fill="#03bbc2"/>
<rect x="1296" y="676" width="43" height="39" fill="#13beb8"/>
<rect x="1339" y="676" width="41" height="39" fill="#12b1d6"/>
<rect x="1380" y="676" width="43" height="39" fill="#0ebebb"/>
<rect x="1423" y="676" width="41" height="39" fill="#14b0d8"/>
<rect x="1464" y="676" width="43" height="39" fill="#1da8e0"/>
<rect x="1507" y="676" width="84" height="39" fill="#0fb2d4"/>
<rect x="1591" y="676" width="43" height="39" fill="#259ce7"/>
<rect x="1634" y="676" width="43" height="39" fill="#1da8e0"/>
<rect x="1677" y="676" width="41" height="39" fill="#20c1b1"/>
<rect x="1718" y="676" width="43" height="39" fill="#13beb8"/>
<rect x="1761" y="676" width="43" height="39" fill="#0ebebb"/>
<rect x="1804" y="676" width="41" height="39" fill="#35c79b"/>
<rect x="1845" y="676" width="43" height="39" fill="#0ebebb"/>
<rect x="197" y="715" width="43" height="42" fill="#18bfb6"/>
<rect x="240" y="715" width="41" height="42" fill="#20c1b1"/>
<rect x="281" y="715" width="43" height="42" fill="#33c69e"/>
<rect x="324" y="715" width="43" height="42" fill="#27c2ab"/>
<rect x="367" y="715" width="41" height="42" fill="#2dc4a6"/>
<rect x="408" y="715" width="43" height="42" fill="#24c1ae"/>
<rect x="451" y="715" width="43" height="42" fill="#02bac5"/>
<rect x="494" y="715" width="41" height="42" fill="#20c1b1"/>
<rect x="535" y="715" width="43" height="42" fill="#0fb2d4"/>
<rect x="578" y="715" width="41" height="42" fill="#0ebebb"/>
<rect x="619" y="715" width="43" height="42" fill="#05b6ce"/>
<rect x="662" y="715" width="43" height="42" fill="#01b9c7"/>
<rect x="705" y="715" width="41" height="42" fill="#20c1b1"/>
<rect x="746" y="715" width="43" height="42" fill="#13beb8"/>
<rect x="789" y="715" width="43" height="42" fill="#33c69e"/>
<rect x="832" y="715" width="40" height="42" fill="#18bfb6"/>
<rect x="872" y="715" width="43" height="42" fill="#27c2ab"/>
<rect x="915" y="715" width="44" height="42" fill="#37c898"/>
<rect x="959" y="715" width="40" height="42" fill="#dfbc2a"/>
<rect x="999" y="715" width="43" height="42" fill="#6ccd68"/>
<rect x="1042" y="715" width="84" height="42" fill="#484aee"/>
<rect x="1126" y="715" width="43" height="42" fill="#43ca8a"/>
<rect x="1169" y="715" width="43" height="42" fill="#24c1ae"/>
<rect x="1212" y="715" width="41" height="42" fill="#20c1b1"/>
<rect x="1253" y="715" width="43" height="42" fill="#327cfc"/>
<rect x="1296" y="715" width="43" height="42" fill="#3cc991"/>
<rect x="1339" y="715" width="41" height="42" fill="#31c5a1"/>
<rect x="1380" y="715" width="43" height="42" fill="#03bbc2"/>
<rect x="1423" y="715" width="41" height="42" fill="#0ebebb"/>
<rect x="1464" y="715" width="43" height="42" fill="#08b5d0"/>
<rect x="1507" y="715" width="43" height="42" fill="#2d8cf3"/>
<rect x="1550" y="715" width="41" height="42" fill="#0ebebb"/>
<rect x="1591" y="715" width="43" height="42" fill="#01b9c7"/>
<rect x="1634" y="715" width="43" height="42" fill="#27c2ab"/>
<rect x="1677" y="715" width="84" height="42" fill="#2fc5a3"/>
<rect x="1761" y="715" width="43" height="42" fill="#27c2ab"/>
<rect x="1804" y="715" width="41" height="42" fill="#20a5e2"/>
<rect x="1845" y="715" width="43" height="42" fill="#1da8e0"/>
<rect x="197" y="757" width="43" height="39" fill="#2fc5a3"/>
<rect x="240" y="757" width="41" height="39" fill="#27c2ab"/>
<rect x="281" y="757" width="43" height="39" fill="#0ebebb"/>
<rect x="324" y="757" width="43" height="39" fill="#08b5d0"/>
<rect x="367" y="757" width="41" height="39" fill="#20c1b1"/>
<rect x="408" y="757" width="43" height="39" fill="#2dc4a6"/>
<rect x="451" y="757" width="43" height="39" fill="#33c69e"/>
<rect x="494" y="757" width="41" height="39" fill="#39c994"/>
<rect x="535" y="757" width="43" height="39" fill="#24c1ae"/>
<rect x="578" y="757" width="41" height="39" fill="#02bac5"/>
<rect x="619" y="757" width="43" height="39" fill="#05b6ce"/>
<rect x="662" y="757" width="43" height="39" fill="#21a3e3"/>
<rect x="705" y="757" width="41" height="39" fill="#0ebebb"/>
<rect x="746" y="757" width="43" height="39" fill="#4bcb83"/>
<rect x="789" y="757" width="43" height="39" fill="#31c5a1"/>
<rect x="832" y="757" width="40" height="39" fill="#59cc78"/>
<rect x="872" y="757" width="43" height="39" fill="#54cc7c"/>
<rect x="915" y="757" width="44" height="39" fill="#aac739"/>
<rect x="959" y="757" width="40" height="39" fill="#fec13a"/>
<rect x="999" y="757" width="43" height="39" fill="#cfc028"/>
<rect x="1042" y="757" width="84" height="39" fill="#4854f5"/>
<rect x="1126" y="757" width="43" height="39" fill="#96ca48"/>
<rect x="1169" y="757" width="43" height="39" fill="#43ca8a"/>
<rect x="1212" y="757" width="84" height="39" fill="#33c69e"/>
<rect x="1296" y="757" width="43" height="39" fill="#3cc991"/>
<rect x="1339" y="757" width="41" height="39" fill="#2fc5a3"/>
<rect x="1380" y="757" width="43" height="39" fill="#31c5a1"/>
<rect x="1423" y="757" width="41" height="39" fill="#2fc5a3"/>
<rect x="1464" y="757" width="43" height="39" fill="#39c994"/>
<rect x="1507" y="757" width="43" height="39" fill="#23a0e5"/>
<rect x="1550" y="757" width="41" height="39" fill="#2fc5a3"/>
<rect x="1591" y="757" width="43" height="39" fill="#07bcc0"/>
<rect x="1634" y="757" width="43" height="39" fill="#0bb3d2"/>
<rect x="1677" y="757" width="41" height="39" fill="#2d8cf3"/>
<rect x="1718" y="757" width="43" height="39" fill="#18bfb6"/>
<rect x="1761" y="757" width="43" height="39" fill="#33c69e"/>
<rect x="1804" y="757" width="41" height="39" fill="#0ebebb"/>
<rect x="1845" y="757" width="43" height="39" fill="#03bbc2"/>
<rect x="197" y="796" width="43" height="39" fill="#31c5a1"/>
<rect x="240" y="796" width="41" height="39" fill="#4562fc"/>
<rect x="281" y="796" width="43" height="39" fill="#2d8af4"/>
<rect x="324" y="796" width="43" height="39" fill="#20c1b1"/>
<rect x="367" y="796" width="41" height="39" fill="#02bac5"/>
<rect x="408" y="796" width="43" height="39" fill="#05b6ce"/>
<rect x="451" y="796" width="84" height="39" fill="#03bbc2"/>
<rect x="535" y="796" width="43" height="39" fill="#02bac5"/>
<rect x="578" y="796" width="41" height="39" fill="#18bfb6"/>
<rect x="619" y="796" width="43" height="39" fill="#31c5a1"/>
<rect x="662" y="796" width="43" height="39" fill="#05b6ce"/>
<rect x="705" y="796" width="41" height="39" fill="#19addc"/>
<rect x="746" y="796" width="43" height="39" fill="#2fc5a3"/>
<rect x="789" y="796" width="43" height="39" fill="#33c69e"/>
<rect x="832" y="796" width="40" height="39" fill="#3cc991"/>
<rect x="872" y="796" width="43" height="39" fill="#50cc80"/>
<rect x="915" y="796" width="44" height="39" fill="#a0c841"/>
<rect x="959" y="796" width="40" height="39" fill="#fec934"/>
<rect x="999" y="796" width="43" height="39" fill="#d3bf27"/>
<rect x="1042" y="796" width="84" height="39" fill="#475af9"/>
<rect x="1126" y="796" width="43" height="39" fill="#fec13a"/>
<rect x="1169" y="796" width="43" height="39" fill="#a0c841"/>
<rect x="1212" y="796" width="41" height="39" fill="#71cd64"/>
<rect x="1253" y="796" width="43" height="39" fill="#43ca8a"/>
<rect x="1296" y="796" width="43" height="39" fill="#5ecc74"/>
<rect x="1339" y="796" width="41" height="39" fill="#2fc5a3"/>
<rect x="1380" y="796" width="43" height="39" fill="#1cc0b3"/>
<rect x="1423" y="796" width="41" height="39" fill="#2fc5a3"/>
<rect x="1464" y="796" width="43" height="39" fill="#33c69e"/>
<rect x="1507" y="796" width="43" height="39" fill="#0ebebb"/>
<rect x="1550" y="796" width="41" height="39" fill="#18bfb6"/>
<rect x="1591" y="796" width="43" height="39" fill="#03bbc2"/>
<rect x="1634" y="796" width="43" height="39" fill="#27c2ab"/>
<rect x="1677" y="796" width="41" height="39" fill="#4bcb83"/>
<rect x="1718" y="796" width="43" height="39" fill="#35c79b"/>
<rect x="1761" y="796" width="43" height="39" fill="#3cc991"/>
<rect x="1804" y="796" width="41" height="39" fill="#2fc5a3"/>
<rect x="1845" y="796" width="43" height="39" fill="#33c69e"/>
<rect x="197" y="835" width="43" height="39" fill="#5ecc74"/>
<rect x="240" y="835" width="41" height="39" fill="#50cc80"/>
<rect x="281" y="835" width="43" height="39" fill="#62cd70"/>
<rect x="324" y="835" width="43" height="39" fill="#5ecc74"/>
<rect x="367" y="835" width="41" height="39" fill="#71cd64"/>
<rect x="408" y="835" width="43" height="39" fill="#59cc78"/>
<rect x="451" y="835" width="43" height="39" fill="#6ccd68"/>
<rect x="494" y="835" width="41" height="39" fill="#62cd70"/>
<rect x="535" y="835" width="43" height="39" fill="#91ca4c"/>
<rect x="578" y="835" width="41" height="39" fill="#81cc58"/>
<rect x="619" y="835" width="86" height="39" fill="#8ccb50"/>
<rect x="705" y="835" width="41" height="39" fill="#91ca4c"/>
<rect x="746" y="835" width="43" height="39" fill="#a0c841"/>
<rect x="789" y="835" width="43" height="39" fill="#aac739"/>
<rect x="832" y="835" width="40" height="39" fill="#bdc32e"/>
<rect x="872" y="835" width="43" height="39" fill="#dfbc2a"/>
<rect x="915" y="835" width="44" height="39" fill="#f9bb3d"/>
<rect x="959" y="835" width="40" height="39" fill="#f9fa15"/>
<rect x="999" y="835" width="43" height="39" fill="#fec537"/>
<rect x="1042" y="835" width="84" height="39" fill="#4852f4"/>
<rect x="1126" y="835" width="43" height="39" fill="#fcd030"/>
<rect x="1169" y="835" width="43" height="39" fill="#dfbc2a"/>
<rect x="1212" y="835" width="41" height="39" fill="#bdc32e"/>
<rect x="1253" y="835" width="43" height="39" fill="#a5c83d"/>
<rect x="1296" y="835" width="43" height="39" fill="#a0c841"/>
<rect x="1339" y="835" width="41" height="39" fill="#87cb54"/>
<rect x="1380" y="835" width="43" height="39" fill="#8ccb50"/>
<rect x="1423" y="835" width="41" height="39" fill="#62cd70"/>
<rect x="1464" y="835" width="43" height="39" fill="#8ccb50"/>
<rect x="1507" y="835" width="84" height="39" fill="#59cc78"/>
<rect x="1591" y="835" width="43" height="39" fill="#62cd70"/>
<rect x="1634" y="835" width="43" height="39" fill="#67cd6c"/>
<rect x="1677" y="835" width="41" height="39" fill="#47cb87"/>
<rect x="1718" y="835" width="43" height="39" fill="#59cc78"/>
<rect x="1761" y="835" width="43" height="39" fill="#43ca8a"/>
<rect x="1804" y="835" width="41" height="39" fill="#47cb87"/>
<rect x="1845" y="835" width="43" height="39" fill="#59cc78"/>
<rect x="197" y="874" width="43" height="39" fill="#20c1b1"/>
<rect x="240" y="874" width="41" height="39" fill="#249ee6"/>
<rect x="281" y="874" width="43" height="39" fill="#1da8e0"/>
<rect x="324" y="874" width="43" height="39" fill="#13beb8"/>
<rect x="367" y="874" width="41" height="39" fill="#2dc4a6"/>
<rect x="408" y="874" width="43" height="39" fill="#31c5a1"/>
<rect x="451" y="874" width="43" height="39" fill="#14b0d8"/>
<rect x="494" y="874" width="41" height="39" fill="#259ce7"/>
<rect x="535" y="874" width="43" height="39" fill="#43ca8a"/>
<rect x="578" y="874" width="41" height="39" fill="#21a3e3"/>
<rect x="619" y="874" width="43" height="39" fill="#03bbc2"/>
<rect x="662" y="874" width="43" height="39" fill="#01b9c7"/>
<rect x="705" y="874" width="41" height="39" fill="#27c2ab"/>
<rect x="746" y="874" width="43" height="39" fill="#2fc5a3"/>
<rect x="789" y="874" width="43" height="39" fill="#39c994"/>
<rect x="832" y="874" width="40" height="39" fill="#37c898"/>
<rect x="872" y="874" width="43" height="39" fill="#0fb2d4"/>
<rect x="915" y="874" width="44" height="39" fill="#47cb87"/>
<rect x="959" y="874" width="40" height="39" fill="#c6c22a"/>
<rect x="999" y="874" width="43" height="39" fill="#71cd64"/>
<rect x="1042" y="874" width="84" height="39" fill="#3a73fe"/>
<rect x="1126" y="874" width="43" height="39" fill="#59cc78"/>
<rect x="1169" y="874" width="43" height="39" fill="#27c2ab"/>
<rect x="1212" y="874" width="41" height="39" fill="#2dc4a6"/>
<rect x="1253" y="874" width="43" height="39" fill="#1da8e0"/>
<rect x="1296" y="874" width="43" height="39" fill="#20c1b1"/>
<rect x="1339" y="874" width="41" height="39" fill="#13beb8"/>
<rect x="1380" y="874" width="43" height="39" fill="#0bb3d2"/>
<rect x="1423" y="874" width="41" height="39" fill="#17aeda"/>
<rect x="1464" y="874" width="43" height="39" fill="#33c69e"/>
<rect x="1507" y="874" width="43" height="39" fill="#13beb8"/>
<rect x="1550" y="874" width="41" height="39" fill="#1da8e0"/>
<rect x="1591" y="874" width="43" height="39" fill="#0ebebb"/>
<rect x="1634" y="874" width="84" height="39" fill="#20c1b1"/>
<rect x="1718" y="874" width="86" height="39" fill="#18bfb6"/>
<rect x="1804" y="874" width="41" height="39" fill="#1aabdd"/>
<rect x="1845" y="874" width="43" height="39" fill="#0abdbd"/>
<rect x="197" y="913" width="43" height="41" fill="#20c1b1"/>
<rect x="240" y="913" width="41" height="41" fill="#05b6ce"/>
<rect x="281" y="913" width="43" height="41" fill="#18bfb6"/>
<rect x="324" y="913" width="84" height="41" fill="#02bac5"/>
<rect x="408" y="913" width="43" height="41" fill="#2fc5a3"/>
<rect x="451" y="913" width="43" height="41" fill="#03bbc2"/>
<rect x="494" y="913" width="41" height="41" fill="#33c69e"/>
<rect x="535" y="913" width="43" height="41" fill="#43ca8a"/>
<rect x="578" y="913" width="41" height="41" fill="#02bac5"/>
<rect x="619" y="913" width="43" height="41" fill="#2dc4a6"/>
<rect x="662" y="913" width="43" height="41" fill="#20a5e2"/>
<rect x="705" y="913" width="41" height="41" fill="#14b0d8"/>
<rect x="746" y="913" width="43" height="41" fill="#01b9c7"/>
<rect x="789" y="913" width="43" height="41" fill="#37c898"/>
<rect x="832" y="913" width="40" height="41" fill="#05b6ce"/>
<rect x="872" y="913" width="43" height="41" fill="#1da8e0"/>
<rect x="915" y="913" width="44" height="41" fill="#2fc5a3"/>
<rect x="959" y="913" width="40" height="41" fill="#b9c431"/>
<rect x="999" y="913" width="43" height="41" fill="#3fca8e"/>
<rect x="1042" y="913" width="84" height="41" fill="#4368fe"/>
<rect x="1126" y="913" width="43" height="41" fill="#31c5a1"/>
<rect x="1169" y="913" width="43" height="41" fill="#0fb2d4"/>
<rect x="1212" y="913" width="41" height="41" fill="#33c69e"/>
<rect x="1253" y="913" width="43" height="41" fill="#0fb2d4"/>
<rect x="1296" y="913" width="43" height="41" fill="#18bfb6"/>
<rect x="1339" y="913" width="41" height="41" fill="#37c898"/>
<rect x="1380" y="913" width="43" height="41" fill="#18bfb6"/>
<rect x="1423" y="913" width="41" height="41" fill="#27c2ab"/>
<rect x="1464" y="913" width="43" height="41" fill="#20c1b1"/>
<rect x="1507" y="913" width="43" height="41" fill="#0abdbd"/>
<rect x="1550" y="913" width="41" height="41" fill="#20c1b1"/>
<rect x="1591" y="913" width="43" height="41" fill="#0bb3d2"/>
<rect x="1634" y="913" width="43" height="41" fill="#2699e9"/>
<rect x="1677" y="913" width="41" height="41" fill="#01b9c7"/>
<rect x="1718" y="913" width="86" height="41" fill="#20a5e2"/>
<rect x="1804" y="913" width="41" height="41" fill="#2896ec"/>
<rect x="1845" y="913" width="43" height="41" fill="#02bac5"/>
<rect x="197" y="954" width="43" height="39" fill="#0ebebb"/>
<rect x="240" y="954" width="41" height="39" fill="#01b9c7"/>
<rect x="281" y="954" width="43" height="39" fill="#37c898"/>
<rect x="324" y="954" width="43" height="39" fill="#2dc4a6"/>
<rect x="367" y="954" width="41" height="39" fill="#33c69e"/>
<rect x="408" y="954" width="43" height="39" fill="#0ebebb"/>
<rect x="451" y="954" width="43" height="39" fill="#24c1ae"/>
<rect x="494" y="954" width="41" height="39" fill="#20a5e2"/>
<rect x="535" y="954" width="43" height="39" fill="#24c1ae"/>
<rect x="578" y="954" width="41" height="39" fill="#0fb2d4"/>
<rect x="619" y="954" width="43" height="39" fill="#05b6ce"/>
<rect x="662" y="954" width="43" height="39" fill="#19addc"/>
<rect x="705" y="954" width="41" height="39" fill="#39c994"/>
<rect x="746" y="954" width="43" height="39" fill="#18bfb6"/>
<rect x="789" y="954" width="43" height="39" fill="#3fca8e"/>
<rect x="832" y="954" width="40" height="39" fill="#2fc5a3"/>
<rect x="872" y="954" width="43" height="39" fill="#2797ea"/>
<rect x="915" y="954" width="44" height="39" fill="#33c69e"/>
<rect x="959" y="954" width="40" height="39" fill="#b4c534"/>
<rect x="999" y="954" width="43" height="39" fill="#03b7cc"/>
<rect x="1042" y="954" width="84" height="39" fill="#4660fc"/>
<rect x="1126" y="954" width="43" height="39" fill="#5ecc74"/>
<rect x="1169" y="954" width="43" height="39" fill="#2ac3a9"/>
<rect x="1212" y="954" width="41" height="39" fill="#27c2ab"/>
<rect x="1253" y="954" width="43" height="39" fill="#31c5a1"/>
<rect x="1296" y="954" width="43" height="39" fill="#20c1b1"/>
<rect x="1339" y="954" width="41" height="39" fill="#20a5e2"/>
<rect x="1380" y="954" width="43" height="39" fill="#17aeda"/>
<rect x="1423" y="954" width="41" height="39" fill="#12b1d6"/>
<rect x="1464" y="954" width="43" height="39" fill="#20a5e2"/>
<rect x="1507" y="954" width="43" height="39" fill="#20c1b1"/>
<rect x="1550" y="954" width="41" height="39" fill="#39c994"/>
<rect x="1591" y="954" width="43" height="39" fill="#2dc4a6"/>
<rect x="1634" y="954" width="43" height="39" fill="#2c8ef1"/>
<rect x="1677" y="954" width="41" height="39" fill="#2dc4a6"/>
<rect x="1718" y="954" width="43" height="39" fill="#31c5a1"/>
<rect x="1761" y="954" width="43" height="39" fill="#18bfb6"/>
<rect x="1804" y="954" width="41" height="39" fill="#20c1b1"/>
<rect x="1845" y="954" width="43" height="39" fill="#07bcc0"/>
<rect x="197" y="993" width="84" height="39" fill="#05b6ce"/>
<rect x="281" y="993" width="43" height="39" fill="#1cc0b3"/>
<rect x="324" y="993" width="43" height="39" fill="#03bbc2"/>
<rect x="367" y="993" width="41" height="39" fill="#33c69e"/>
<rect x="408" y="993" width="43" height="39" fill="#2ac3a9"/>
<rect x="451" y="993" width="43" height="39" fill="#27c2ab"/>
<rect x="494" y="993" width="41" height="39" fill="#0ebebb"/>
<rect x="535" y="993" width="43" height="39" fill="#33c69e"/>
<rect x="578" y="993" width="41" height="39" fill="#2fc5a3"/>
<rect x="619" y="993" width="43" height="39" fill="#03b7cc"/>
<rect x="662" y="993" width="43" height="39" fill="#1aabdd"/>
<rect x="705" y="993" width="41" height="39" fill="#20c1b1"/>
<rect x="746" y="993" width="43" height="39" fill="#05b6ce"/>
<rect x="789" y="993" width="43" height="39" fill="#0fb2d4"/>
<rect x="832" y="993" width="40" height="39" fill="#23a0e5"/>
<rect x="872" y="993" width="43" height="39" fill="#17aeda"/>
<rect x="915" y="993" width="44" height="39" fill="#31c5a1"/>
<rect x="959" y="993" width="40" height="39" fill="#2dc4a6"/>
<rect x="999" y="993" width="43" height="39" fill="#2ac3a9"/>
<rect x="1042" y="993" width="84" height="39" fill="#3e27ac"/>
<rect x="1126" y="993" width="43" height="39" fill="#0ebebb"/>
<rect x="1169" y="993" width="43" height="39" fill="#2fc5a3"/>
<rect x="1212" y="993" width="41" height="39" fill="#03b7cc"/>
<rect x="1253" y="993" width="43" height="39" fill="#17aeda"/>
<rect x="1296" y="993" width="43" height="39" fill="#33c69e"/>
<rect x="1339" y="993" width="41" height="39" fill="#0ebebb"/>
<rect x="1380" y="993" width="43" height="39" fill="#23a0e5"/>
<rect x="1423" y="993" width="41" height="39" fill="#2fc5a3"/>
<rect x="1464" y="993" width="43" height="39" fill="#2dc4a6"/>
<rect x="1507" y="993" width="43" height="39" fill="#27c2ab"/>
<rect x="1550" y="993" width="41" height="39" fill="#2dc4a6"/>
<rect x="1591" y="993" width="43" height="39" fill="#33c69e"/>
<rect x="1634" y="993" width="84" height="39" fill="#24c1ae"/>
<rect x="1718" y="993" width="43" height="39" fill="#0bb3d2"/>
<rect x="1761" y="993" width="43" height="39" fill="#05b6ce"/>
<rect x="1804" y="993" width="41" height="39" fill="#13beb8"/>
<rect x="1845" y="993" width="43" height="39" fill="#1da8e0"/>
<rect x="197" y="1032" width="43" height="39" fill="#05b6ce"/>
<rect x="240" y="1032" width="41" height="39" fill="#1da8e0"/>
<rect x="281" y="1032" width="43" height="39" fill="#24c1ae"/>
<rect x="324" y="1032" width="43" height="39" fill="#31c5a1"/>
<rect x="367" y="1032" width="41" height="39" fill="#33c69e"/>
<rect x="408" y="1032" width="43" height="39" fill="#31c5a1"/>
<rect x="451" y="1032" width="43" height="39" fill="#01b8c9"/>
<rect x="494" y="1032" width="41" height="39" fill="#0fb2d4"/>
<rect x="535" y="1032" width="43" height="39" fill="#2dc4a6"/>
<rect x="578" y="1032" width="41" height="39" fill="#05b6ce"/>
<rect x="619" y="1032" width="43" height="39" fill="#337afd"/>
<rect x="662" y="1032" width="43" height="39" fill="#01b9c7"/>
<rect x="705" y="1032" width="41" height="39" fill="#27c2ab"/>
<rect x="746" y="1032" width="43" height="39" fill="#0abdbd"/>
<rect x="789" y="1032" width="43" height="39" fill="#07bcc0"/>
<rect x="832" y="1032" width="83" height="39" fill="#03b7cc"/>
<rect x="915" y="1032" width="44" height="39" fill="#01b9c7"/>
<rect x="959" y="1032" width="40" height="39" fill="#24c1ae"/>
<rect x="999" y="1032" width="43" height="39" fill="#19addc"/>
<rect x="1042" y="1032" width="84" height="39" fill="#4852f4"/>
<rect x="1126" y="1032" width="43" height="39" fill="#01b9c7"/>
<rect x="1169" y="1032" width="43" height="39" fill="#05b6ce"/>
<rect x="1212" y="1032" width="41" height="39" fill="#18bfb6"/>
<rect x="1253" y="1032" width="43" height="39" fill="#1da8e0"/>
<rect x="1296" y="1032" width="43" height="39" fill="#249ee6"/>
<rect x="1339" y="1032" width="41" height="39" fill="#2dc4a6"/>
<rect x="1380" y="1032" width="43" height="39" fill="#03b7cc"/>
<rect x="1423" y="1032" width="41" height="39" fill="#43ca8a"/>
<rect x="1464" y="1032" width="43" height="39" fill="#19addc"/>
<rect x="1507" y="1032" width="43" height="39" fill="#03b7cc"/>
<rect x="1550" y="1032" width="41" height="39" fill="#0ebebb"/>
<rect x="1591" y="1032" width="43" height="39" fill="#4bcb83"/>
<rect x="1634" y="1032" width="43" height="39" fill="#17aeda"/>
<rect x="1677" y="1032" width="41" height="39" fill="#05b6ce"/>
<rect x="1718" y="1032" width="86" height="39" fill="#20c1b1"/>
<rect x="1804" y="1032" width="41" height="39" fill="#08b5d0"/>
<rect x="1845" y="1032" width="43" height="39" fill="#0fb2d4"/>
<rect x="197" y="1071" width="43" height="39" fill="#12b1d6"/>
<rect x="240" y="1071" width="41" height="39" fill="#1cc0b3"/>
<rect x="281" y="1071" width="43" height="39" fill="#20c1b1"/>
<rect x="324" y="1071" width="43" height="39" fill="#2fc5a3"/>
<rect x="367" y="1071" width="41" height="39" fill="#05b6ce"/>
<rect x="408" y="1071" width="43" height="39" fill="#03bbc2"/>
<rect x="451" y="1071" width="43" height="39" fill="#4bcb83"/>
<rect x="494" y="1071" width="41" height="39" fill="#19addc"/>
<rect x="535" y="1071" width="43" height="39" fill="#17aeda"/>
<rect x="578" y="1071" width="41" height="39" fill="#02bac5"/>
<rect x="619" y="1071" width="43" height="39" fill="#3c71ff"/>
<rect x="662" y="1071" width="43" height="39" fill="#2dc4a6"/>
<rect x="705" y="1071" width="41" height="39" fill="#01b9c7"/>
<rect x="746" y="1071" width="43" height="39" fill="#20c1b1"/>
<rect x="789" y="1071" width="43" height="39" fill="#14b0d8"/>
<rect x="832" y="1071" width="40" height="39" fill="#31c5a1"/>
<rect x="872" y="1071" width="43" height="39" fill="#18bfb6"/>
<rect x="915" y="1071" width="44" height="39" fill="#0bb3d2"/>
<rect x="959" y="1071" width="40" height="39" fill="#33c69e"/>
<rect x="999" y="1071" width="43" height="39" fill="#2ac3a9"/>
<rect x="1042" y="1071" width="84" height="39" fill="#465efb"/>
<rect x="1126" y="1071" width="43" height="39" fill="#02bac5"/>
<rect x="1169" y="1071" width="43" height="39" fill="#2d88f6"/>
<rect x="1212" y="1071" width="41" height="39" fill="#2dc4a6"/>
<rect x="1253" y="1071" width="43" height="39" fill="#249ee6"/>
<rect x="1296" y="1071" width="43" height="39" fill="#0ebebb"/>
<rect x="1339" y="1071" width="41" height="39" fill="#13beb8"/>
<rect x="1380" y="1071" width="43" height="39" fill="#17aeda"/>
<rect x="1423" y="1071" width="41" height="39" fill="#03b7cc"/>
<rect x="1464" y="1071" width="43" height="39" fill="#1ea7e1"/>
<rect x="1507" y="1071" width="43" height="39" fill="#14b0d8"/>
<rect x="1550" y="1071" width="41" height="39" fill="#2699e9"/>
<rect x="1591" y="1071" width="43" height="39" fill="#1caadf"/>
<rect x="1634" y="1071" width="43" height="39" fill="#20c1b1"/>
<rect x="1677" y="1071" width="84" height="39" fill="#0fb2d4"/>
<rect x="1761" y="1071" width="43" height="39" fill="#2ac3a9"/>
<rect x="1804" y="1071" width="41" height="39" fill="#0fb2d4"/>
<rect x="1845" y="1071" width="43" height="39" fill="#01b9c7"/>
<rect x="197" y="1110" width="43" height="42" fill="#05b6ce"/>
<rect x="240" y="1110" width="41" height="42" fill="#01b9c7"/>
<rect x="281" y="1110" width="43" height="42" fill="#0ebebb"/>
<rect x="324" y="1110" width="43" height="42" fill="#05b6ce"/>
<rect x="367" y="1110" width="41" height="42" fill="#259ce7"/>
<rect x="408" y="1110" width="43" height="42" fill="#05b6ce"/>
<rect x="451" y="1110" width="43" height="42" fill="#23a0e5"/>
<rect x="494" y="1110" width="41" height="42" fill="#1caadf"/>
<rect x="535" y="1110" width="43" height="42" fill="#02bac5"/>
<rect x="578" y="1110" width="41" height="42" fill="#2fc5a3"/>
<rect x="619" y="1110" width="43" height="42" fill="#03b7cc"/>
<rect x="662" y="1110" width="43" height="42" fill="#13beb8"/>
<rect x="705" y="1110" width="41" height="42" fill="#337afd"/>
<rect x="746" y="1110" width="43" height="42" fill="#05b6ce"/>
<rect x="789" y="1110" width="43" height="42" fill="#2896ec"/>
<rect x="832" y="1110" width="40" height="42" fill="#0ebebb"/>
<rect x="872" y="1110" width="43" height="42" fill="#2fc5a3"/>
<rect x="915" y="1110" width="44" height="42" fill="#23a0e5"/>
<rect x="959" y="1110" width="40" height="42" fill="#33c69e"/>
<rect x="999" y="1110" width="43" height="42" fill="#13beb8"/>
<rect x="1042" y="1110" width="84" height="42" fill="#4850f2"/>
<rect x="1126" y="1110" width="43" height="42" fill="#2d8af4"/>
<rect x="1169" y="1110" width="43" height="42" fill="#2dc4a6"/>
<rect x="1212" y="1110" width="41" height="42" fill="#33c69e"/>
<rect x="1253" y="1110" width="43" height="42" fill="#05b6ce"/>
<rect x="1296" y="1110" width="43" height="42" fill="#02bac5"/>
<rect x="1339" y="1110" width="41" height="42" fill="#20c1b1"/>
<rect x="1380" y="1110" width="43" height="42" fill="#0fb2d4"/>
<rect x="1423" y="1110" width="41" height="42" fill="#17aeda"/>
<rect x="1464" y="1110" width="43" height="42" fill="#1ea7e1"/>
<rect x="1507" y="1110" width="43" height="42" fill="#01b9c7"/>
<rect x="1550" y="1110" width="41" height="42" fill="#03bbc2"/>
<rect x="1591" y="1110" width="43" height="42" fill="#0fb2d4"/>
<rect x="1634" y="1110" width="43" height="42" fill="#20c1b1"/>
<rect x="1677" y="1110" width="41" height="42" fill="#1aabdd"/>
<rect x="1718" y="1110" width="43" height="42" fill="#1da8e0"/>
<rect x="1761" y="1110" width="43" height="42" fill="#259ce7"/>
<rect x="1804" y="1110" width="41" height="42" fill="#05b6ce"/>
<rect x="1845" y="1110" width="43" height="42" fill="#27c2ab"/>
<rect x="197" y="1152" width="43" height="39" fill="#20c1b1"/>
<rect x="240" y="1152" width="41" height="39" fill="#1aabdd"/>
<rect x="281" y="1152" width="43" height="39" fill="#2fc5a3"/>
<rect x="324" y="1152" width="43" height="39" fill="#1da8e0"/>
<rect x="367" y="1152" width="41" height="39" fill="#01b8c9"/>
<rect x="408" y="1152" width="43" height="39" fill="#23a0e5"/>
<rect x="451" y="1152" width="43" height="39" fill="#01b9c7"/>
<rect x="494" y="1152" width="41" height="39" fill="#18bfb6"/>
<rect x="535" y="1152" width="43" height="39" fill="#2dc4a6"/>
<rect x="578" y="1152" width="41" height="39" fill="#05b6ce"/>
<rect x="619" y="1152" width="43" height="39" fill="#23a0e5"/>
<rect x="662" y="1152" width="43" height="39" fill="#03b7cc"/>
<rect x="705" y="1152" width="84" height="39" fill="#1aabdd"/>
<rect x="789" y="1152" width="43" height="39" fill="#02bac5"/>
<rect x="832" y="1152" width="40" height="39" fill="#01b8c9"/>
<rect x="872" y="1152" width="87" height="39" fill="#20c1b1"/>
<rect x="959" y="1152" width="40" height="39" fill="#0ebebb"/>
<rect x="999" y="1152" width="43" height="39" fill="#24c1ae"/>
<rect x="1042" y="1152" width="84" height="39" fill="#4562fc"/>
<rect x="1126" y="1152" width="43" height="39" fill="#1da8e0"/>
<rect x="1169" y="1152" width="43" height="39" fill="#20c1b1"/>
<rect x="1212" y="1152" width="41" height="39" fill="#17aeda"/>
<rect x="1253" y="1152" width="43" height="39" fill="#03bbc2"/>
<rect x="1296" y="1152" width="43" height="39" fill="#07bcc0"/>
<rect x="1339" y="1152" width="84" height="39" fill="#17aeda"/>
<rect x="1423" y="1152" width="41" height="39" fill="#20c1b1"/>
<rect x="1464" y="1152" width="43" height="39" fill="#24c1ae"/>
<rect x="1507" y="1152" width="43" height="39" fill="#0ebebb"/>
<rect x="1550" y="1152" width="41" height="39" fill="#23a0e5"/>
<rect x="1591" y="1152" width="43" height="39" fill="#05b6ce"/>
<rect x="1634" y="1152" width="43" height="39" fill="#0abdbd"/>
<rect x="1677" y="1152" width="41" height="39" fill="#01b9c7"/>
<rect x="1718" y="1152" width="43" height="39" fill="#03b7cc"/>
<rect x="1761" y="1152" width="43" height="39" fill="#18bfb6"/>
<rect x="1804" y="1152" width="41" height="39" fill="#05b6ce"/>
<rect x="1845" y="1152" width="43" height="39" fill="#2ac3a9"/>
<rect x="197" y="1191" width="43" height="39" fill="#05b6ce"/>
<rect x="240" y="1191" width="41" height="39" fill="#2dc4a6"/>
<rect x="281" y="1191" width="43" height="39" fill="#2ac3a9"/>
<rect x="324" y="1191" width="43" height="39" fill="#03b7cc"/>
<rect x="367" y="1191" width="41" height="39" fill="#20c1b1"/>
<rect x="408" y="1191" width="43" height="39" fill="#03bbc2"/>
<rect x="451" y="1191" width="43" height="39" fill="#33c69e"/>
<rect x="494" y="1191" width="41" height="39" fill="#0ebebb"/>
<rect x="535" y="1191" width="43" height="39" fill="#2dc4a6"/>
<rect x="578" y="1191" width="41" height="39" fill="#03b7cc"/>
<rect x="619" y="1191" width="43" height="39" fill="#05b6ce"/>
<rect x="662" y="1191" width="84" height="39" fill="#20c1b1"/>
<rect x="746" y="1191" width="43" height="39" fill="#14b0d8"/>
<rect x="789" y="1191" width="43" height="39" fill="#01b9c7"/>
<rect x="832" y="1191" width="40" height="39" fill="#24c1ae"/>
<rect x="872" y="1191" width="87" height="39" fill="#2ac3a9"/>
<rect x="959" y="1191" width="40" height="39" fill="#2dc4a6"/>
<rect x="999" y="1191" width="43" height="39" fill="#18bfb6"/>
<rect x="1042" y="1191" width="84" height="39" fill="#4368fe"/>
<rect x="1126" y="1191" width="43" height="39" fill="#01b8c9"/>
<rect x="1169" y="1191" width="43" height="39" fill="#2dc4a6"/>
<rect x="1212" y="1191" width="41" height="39" fill="#23a0e5"/>
<rect x="1253" y="1191" width="43" height="39" fill="#05b6ce"/>
<rect x="1296" y="1191" width="43" height="39" fill="#0abdbd"/>
<rect x="1339" y="1191" width="41" height="39" fill="#2fc5a3"/>
<rect x="1380" y="1191" width="43" height="39" fill="#14b0d8"/>
<rect x="1423" y="1191" width="41" height="39" fill="#2ac3a9"/>
<rect x="1464" y="1191" width="43" height="39" fill="#17aeda"/>
<rect x="1507" y="1191" width="43" height="39" fill="#2fc5a3"/>
<rect x="1550" y="1191" width="41" height="39" fill="#14b0d8"/>
<rect x="1591" y="1191" width="43" height="39" fill="#20a5e2"/>
<rect x="1634" y="1191" width="43" height="39" fill="#0ebebb"/>
<rect x="1677" y="1191" width="41" height="39" fill="#0fb2d4"/>
<rect x="1718" y="1191" width="43" height="39" fill="#12b1d6"/>
<rect x="1761" y="1191" width="43" height="39" fill="#03bbc2"/>
<rect x="1804" y="1191" width="41" height="39" fill="#37c898"/>
<rect x="1845" y="1191" width="43" height="39" fill="#14b0d8"/>
<rect x="197" y="1230" width="43" height="39" fill="#01b9c7"/>
<rect x="240" y="1230" width="41" height="39" fill="#59cc78"/>
<rect x="281" y="1230" width="43" height="39" fill="#05b6ce"/>
<rect x="324" y="1230" width="43" height="39" fill="#18bfb6"/>
<rect x="367" y="1230" width="41" height="39" fill="#17aeda"/>
<rect x="408" y="1230" width="43" height="39" fill="#14b0d8"/>
<rect x="451" y="1230" width="43" height="39" fill="#2dc4a6"/>
<rect x="494" y="1230" width="41" height="39" fill="#31c5a1"/>
<rect x="535" y="1230" width="43" height="39" fill="#0ebebb"/>
<rect x="578" y="1230" width="41" height="39" fill="#20c1b1"/>
<rect x="619" y="1230" width="43" height="39" fill="#03b7cc"/>
<rect x="662" y="1230" width="43" height="39" fill="#1da8e0"/>
<rect x="705" y="1230" width="41" height="39" fill="#31c5a1"/>
<rect x="746" y="1230" width="43" height="39" fill="#1da8e0"/>
<rect x="789" y="1230" width="43" height="39" fill="#17aeda"/>
<rect x="832" y="1230" width="40" height="39" fill="#20c1b1"/>
<rect x="872" y="1230" width="43" height="39" fill="#0fb2d4"/>
<rect x="915" y="1230" width="44" height="39" fill="#0ebebb"/>
<rect x="959" y="1230" width="40" height="39" fill="#12b1d6"/>
<rect x="999" y="1230" width="43" height="39" fill="#13beb8"/>
<rect x="1042" y="1230" width="84" height="39" fill="#4852f4"/>
<rect x="1126" y="1230" width="43" height="39" fill="#03b7cc"/>
<rect x="1169" y="1230" width="43" height="39" fill="#39c994"/>
<rect x="1212" y="1230" width="41" height="39" fill="#249ee6"/>
<rect x="1253" y="1230" width="43" height="39" fill="#18bfb6"/>
<rect x="1296" y="1230" width="43" height="39" fill="#05b6ce"/>
<rect x="1339" y="1230" width="41" height="39" fill="#2dc4a6"/>
<rect x="1380" y="1230" width="43" height="39" fill="#23a0e5"/>
<rect x="1423" y="1230" width="41" height="39" fill="#01b9c7"/>
<rect x="1464" y="1230" width="43" height="39" fill="#1ea7e1"/>
<rect x="1507" y="1230" width="43" height="39" fill="#249ee6"/>
<rect x="1550" y="1230" width="41" height="39" fill="#14b0d8"/>
<rect x="1591" y="1230" width="86" height="39" fill="#1caadf"/>
<rect x="1677" y="1230" width="41" height="39" fill="#01b9c7"/>
<rect x="1718" y="1230" width="43" height="39" fill="#02bac5"/>
<rect x="1761" y="1230" width="43" height="39" fill="#0abdbd"/>
<rect x="1804" y="1230" width="84" height="39" fill="#24c1ae"/>
<rect x="197" y="1269" width="43" height="39" fill="#0fb2d4"/>
<rect x="240" y="1269" width="41" height="39" fill="#2dc4a6"/>
<rect x="281" y="1269" width="43" height="39" fill="#14b0d8"/>
<rect x="324" y="1269" width="43" height="39" fill="#0ebebb"/>
<rect x="367" y="1269" width="41" height="39" fill="#13beb8"/>
<rect x="408" y="1269" width="43" height="39" fill="#4bcb83"/>
<rect x="451" y="1269" width="43" height="39" fill="#2dc4a6"/>
<rect x="494" y="1269" width="41" height="39" fill="#0abdbd"/>
<rect x="535" y="1269" width="43" height="39" fill="#17aeda"/>
<rect x="578" y="1269" width="41" height="39" fill="#07bcc0"/>
<rect x="619" y="1269" width="43" height="39" fill="#01b9c7"/>
<rect x="662" y="1269" width="43" height="39" fill="#0ebebb"/>
<rect x="705" y="1269" width="41" height="39" fill="#05b6ce"/>
<rect x="746" y="1269" width="86" height="39" fill="#24c1ae"/>
<rect x="832" y="1269" width="40" height="39" fill="#33c69e"/>
<rect x="872" y="1269" width="43" height="39" fill="#01b9c7"/>
<rect x="915" y="1269" width="44" height="39" fill="#0ebebb"/>
<rect x="959" y="1269" width="40" height="39" fill="#37c898"/>
<rect x="999" y="1269" width="43" height="39" fill="#20c1b1"/>
<rect x="1042" y="1269" width="84" height="39" fill="#4854f5"/>
<rect x="1126" y="1269" width="43" height="39" fill="#20c1b1"/>
<rect x="1169" y="1269" width="43" height="39" fill="#05b6ce"/>
<rect x="1212" y="1269" width="41" height="39" fill="#327cfc"/>
<rect x="1253" y="1269" width="43" height="39" fill="#39c994"/>
<rect x="1296" y="1269" width="43" height="39" fill="#2c8ef1"/>
<rect x="1339" y="1269" width="41" height="39" fill="#03bbc2"/>
<rect x="1380" y="1269" width="43" height="39" fill="#14b0d8"/>
<rect x="1423" y="1269" width="41" height="39" fill="#24c1ae"/>
<rect x="1464" y="1269" width="43" height="39" fill="#03bbc2"/>
<rect x="1507" y="1269" width="43" height="39" fill="#17aeda"/>
<rect x="1550" y="1269" width="41" height="39" fill="#20c1b1"/>
<rect x="1591" y="1269" width="43" height="39" fill="#0fb2d4"/>
<rect x="1634" y="1269" width="43" height="39" fill="#03bbc2"/>
<rect x="1677" y="1269" width="41" height="39" fill="#20c1b1"/>
<rect x="1718" y="1269" width="43" height="39" fill="#07bcc0"/>
<rect x="1761" y="1269" width="43" height="39" fill="#03b7cc"/>
<rect x="1804" y="1269" width="41" height="39" fill="#23a0e5"/>
<rect x="1845" y="1269" width="43" height="39" fill="#02bac5"/>
<rect x="197" y="1308" width="43" height="41" fill="#05b6ce"/>
<rect x="240" y="1308" width="41" height="41" fill="#39c994"/>
<rect x="281" y="1308" width="43" height="41" fill="#0fb2d4"/>
<rect x="324" y="1308" width="43" height="41" fill="#259ce7"/>
<rect x="367" y="1308" width="41" height="41" fill="#12b1d6"/>
<rect x="408" y="1308" width="43" height="41" fill="#0ebebb"/>
<rect x="451" y="1308" width="43" height="41" fill="#20c1b1"/>
<rect x="494" y="1308" width="41" height="41" fill="#17aeda"/>
<rect x="535" y="1308" width="43" height="41" fill="#01b9c7"/>
<rect x="578" y="1308" width="41" height="41" fill="#33c69e"/>
<rect x="619" y="1308" width="43" height="41" fill="#01b8c9"/>
<rect x="662" y="1308" width="43" height="41" fill="#0ebebb"/>
<rect x="705" y="1308" width="41" height="41" fill="#18bfb6"/>
<rect x="746" y="1308" width="43" height="41" fill="#13beb8"/>
<rect x="789" y="1308" width="43" height="41" fill="#20c1b1"/>
<rect x="832" y="1308" width="40" height="41" fill="#01b8c9"/>
<rect x="872" y="1308" width="43" height="41" fill="#13beb8"/>
<rect x="915" y="1308" width="44" height="41" fill="#35c79b"/>
<rect x="959" y="1308" width="40" height="41" fill="#24c1ae"/>
<rect x="999" y="1308" width="43" height="41" fill="#4bcb83"/>
<rect x="1042" y="1308" width="84" height="41" fill="#4852f4"/>
<rect x="1126" y="1308" width="43" height="41" fill="#1da8e0"/>
<rect x="1169" y="1308" width="43" height="41" fill="#03b7cc"/>
<rect x="1212" y="1308" width="41" height="41" fill="#2dc4a6"/>
<rect x="1253" y="1308" width="43" height="41" fill="#05b6ce"/>
<rect x="1296" y="1308" width="43" height="41" fill="#20c1b1"/>
<rect x="1339" y="1308" width="84" height="41" fill="#2dc4a6"/>
<rect x="1423" y="1308" width="41" height="41" fill="#20c1b1"/>
<rect x="1464" y="1308" width="43" height="41" fill="#33c69e"/>
<rect x="1507" y="1308" width="43" height="41" fill="#03b7cc"/>
<rect x="1550" y="1308" width="41" height="41" fill="#05b6ce"/>
<rect x="1591" y="1308" width="43" height="41" fill="#0fb2d4"/>
<rect x="1634" y="1308" width="43" height="41" fill="#35c79b"/>
<rect x="1677" y="1308" width="41" height="41" fill="#05b6ce"/>
<rect x="1718" y="1308" width="43" height="41" fill="#2fc5a3"/>
<rect x="1761" y="1308" width="43" height="41" fill="#08b5d0"/>
<rect x="1804" y="1308" width="41" height="41" fill="#1da8e0"/>
<rect x="1845" y="1308" width="43" height="41" fill="#31c5a1"/>
<rect x="197" y="1349" width="43" height="39" fill="#0fb2d4"/>
<rect x="240" y="1349" width="41" height="39" fill="#20a5e2"/>
<rect x="281" y="1349" width="43" height="39" fill="#2dc4a6"/>
<rect x="324" y="1349" width="43" height="39" fill="#05b6ce"/>
<rect x="367" y="1349" width="41" height="39" fill="#18bfb6"/>
<rect x="408" y="1349" width="43" height="39" fill="#27c2ab"/>
<rect x="451" y="1349" width="43" height="39" fill="#05b6ce"/>
<rect x="494" y="1349" width="41" height="39" fill="#327cfc"/>
<rect x="535" y="1349" width="43" height="39" fill="#12b1d6"/>
<rect x="578" y="1349" width="41" height="39" fill="#0ebebb"/>
<rect x="619" y="1349" width="43" height="39" fill="#20c1b1"/>
<rect x="662" y="1349" width="43" height="39" fill="#13beb8"/>
<rect x="705" y="1349" width="41" height="39" fill="#02bac5"/>
<rect x="746" y="1349" width="43" height="39" fill="#27c2ab"/>
<rect x="789" y="1349" width="43" height="39" fill="#2fc5a3"/>
<rect x="832" y="1349" width="40" height="39" fill="#20c1b1"/>
<rect x="872" y="1349" width="43" height="39" fill="#01b9c7"/>
<rect x="915" y="1349" width="44" height="39" fill="#20a5e2"/>
<rect x="959" y="1349" width="40" height="39" fill="#0ebebb"/>
<rect x="999" y="1349" width="43" height="39" fill="#27c2ab"/>
<rect x="1042" y="1349" width="84" height="39" fill="#4850f2"/>
<rect x="1126" y="1349" width="43" height="39" fill="#01b9c7"/>
<rect x="1169" y="1349" width="43" height="39" fill="#05b6ce"/>
<rect x="1212" y="1349" width="41" height="39" fill="#27c2ab"/>
<rect x="1253" y="1349" width="43" height="39" fill="#0abdbd"/>
<rect x="1296" y="1349" width="43" height="39" fill="#20a5e2"/>
<rect x="1339" y="1349" width="41" height="39" fill="#07bcc0"/>
<rect x="1380" y="1349" width="43" height="39" fill="#0abdbd"/>
<rect x="1423" y="1349" width="41" height="39" fill="#0bb3d2"/>
<rect x="1464" y="1349" width="43" height="39" fill="#33c69e"/>
<rect x="1507" y="1349" width="43" height="39" fill="#2e85f8"/>
<rect x="1550" y="1349" width="41" height="39" fill="#1da8e0"/>
<rect x="1591" y="1349" width="43" height="39" fill="#0ebebb"/>
<rect x="1634" y="1349" width="43" height="39" fill="#27c2ab"/>
<rect x="1677" y="1349" width="84" height="39" fill="#20c1b1"/>
<rect x="1761" y="1349" width="43" height="39" fill="#05b6ce"/>
<rect x="1804" y="1349" width="41" height="39" fill="#23a0e5"/>
<rect x="1845" y="1349" width="43" height="39" fill="#2797ea"/>
<rect x="197" y="1388" width="43" height="39" fill="#2fc5a3"/>
<rect x="240" y="1388" width="41" height="39" fill="#20c1b1"/>
<rect x="281" y="1388" width="43" height="39" fill="#01b9c7"/>
<rect x="324" y="1388" width="43" height="39" fill="#03b7cc"/>
<rect x="367" y="1388" width="41" height="39" fill="#2c8ef1"/>
<rect x="408" y="1388" width="43" height="39" fill="#259ce7"/>
<rect x="451" y="1388" width="43" height="39" fill="#13beb8"/>
<rect x="494" y="1388" width="41" height="39" fill="#27c2ab"/>
<rect x="535" y="1388" width="43" height="39" fill="#0ebebb"/>
<rect x="578" y="1388" width="41" height="39" fill="#33c69e"/>
<rect x="619" y="1388" width="43" height="39" fill="#13beb8"/>
<rect x="662" y="1388" width="43" height="39" fill="#2fc5a3"/>
<rect x="705" y="1388" width="41" height="39" fill="#13beb8"/>
<rect x="746" y="1388" width="43" height="39" fill="#03b7cc"/>
<rect x="789" y="1388" width="43" height="39" fill="#31c5a1"/>
<rect x="832" y="1388" width="40" height="39" fill="#50cc80"/>
<rect x="872" y="1388" width="43" height="39" fill="#17aeda"/>
<rect x="915" y="1388" width="44" height="39" fill="#0ebebb"/>
<rect x="959" y="1388" width="40" height="39" fill="#19addc"/>
<rect x="999" y="1388" width="43" height="39" fill="#27c2ab"/>
<rect x="1042" y="1388" width="84" height="39" fill="#4850f2"/>
<rect x="1126" y="1388" width="43" height="39" fill="#22a2e4"/>
<rect x="1169" y="1388" width="43" height="39" fill="#05b6ce"/>
<rect x="1212" y="1388" width="84" height="39" fill="#2fc5a3"/>
<rect x="1296" y="1388" width="43" height="39" fill="#07bcc0"/>
<rect x="1339" y="1388" width="41" height="39" fill="#01b9c7"/>
<rect x="1380" y="1388" width="43" height="39" fill="#27c2ab"/>
<rect x="1423" y="1388" width="41" height="39" fill="#2ac3a9"/>
<rect x="1464" y="1388" width="43" height="39" fill="#20c1b1"/>
<rect x="1507" y="1388" width="43" height="39" fill="#20a5e2"/>
<rect x="1550" y="1388" width="41" height="39" fill="#2fc5a3"/>
<rect x="1591" y="1388" width="43" height="39" fill="#03bbc2"/>
<rect x="1634" y="1388" width="43" height="39" fill="#02bac5"/>
<rect x="1677" y="1388" width="41" height="39" fill="#17aeda"/>
<rect x="1718" y="1388" width="43" height="39" fill="#20a5e2"/>
<rect x="1761" y="1388" width="43" height="39" fill="#01b9c7"/>
<rect x="1804" y="1388" width="41" height="39" fill="#2dc4a6"/>
<rect x="1845" y="1388" width="43" height="39" fill="#1aabdd"/>
<rect x="197" y="1427" width="43" height="39" fill="#03b7cc"/>
<rect x="240" y="1427" width="41" height="39" fill="#05b6ce"/>
<rect x="281" y="1427" width="43" height="39" fill="#20c1b1"/>
<rect x="324" y="1427" width="43" height="39" fill="#0ebebb"/>
<rect x="367" y="1427" width="41" height="39" fill="#18bfb6"/>
<rect x="408" y="1427" width="43" height="39" fill="#2dc4a6"/>
<rect x="451" y="1427" width="43" height="39" fill="#07bcc0"/>
<rect x="494" y="1427" width="41" height="39" fill="#17aeda"/>
<rect x="535" y="1427" width="43" height="39" fill="#1da8e0"/>
<rect x="578" y="1427" width="41" height="39" fill="#3cc991"/>
<rect x="619" y="1427" width="43" height="39" fill="#33c69e"/>
<rect x="662" y="1427" width="43" height="39" fill="#0fb2d4"/>
<rect x="705" y="1427" width="41" height="39" fill="#14b0d8"/>
<rect x="746" y="1427" width="43" height="39" fill="#24c1ae"/>
<rect x="789" y="1427" width="43" height="39" fill="#2d8af4"/>
<rect x="832" y="1427" width="40" height="39" fill="#31c5a1"/>
<rect x="872" y="1427" width="43" height="39" fill="#0ebebb"/>
<rect x="915" y="1427" width="44" height="39" fill="#2c8ef1"/>
<rect x="959" y="1427" width="40" height="39" fill="#02bac5"/>
<rect x="999" y="1427" width="43" height="39" fill="#13beb8"/>
<rect x="1042" y="1427" width="84" height="39" fill="#4854f5"/>
<rect x="1126" y="1427" width="43" height="39" fill="#2dc4a6"/>
<rect x="1169" y="1427" width="43" height="39" fill="#0fb2d4"/>
<rect x="1212" y="1427" width="41" height="39" fill="#20c1b1"/>
<rect x="1253" y="1427" width="43" height="39" fill="#02bac5"/>
<rect x="1296" y="1427" width="43" height="39" fill="#27c2ab"/>
<rect x="1339" y="1427" width="41" height="39" fill="#33c69e"/>
<rect x="1380" y="1427" width="43" height="39" fill="#05b6ce"/>
<rect x="1423" y="1427" width="41" height="39" fill="#23a0e5"/>
<rect x="1464" y="1427" width="43" height="39" fill="#0abdbd"/>
<rect x="1507" y="1427" width="43" height="39" fill="#1aabdd"/>
<rect x="1550" y="1427" width="41" height="39" fill="#20c1b1"/>
<rect x="1591" y="1427" width="43" height="39" fill="#0fb2d4"/>
<rect x="1634" y="1427" width="43" height="39" fill="#0abdbd"/>
<rect x="1677" y="1427" width="41" height="39" fill="#2dc4a6"/>
<rect x="1718" y="1427" width="43" height="39" fill="#21a3e3"/>
<rect x="1761" y="1427" width="43" height="39" fill="#0ebebb"/>
<rect x="1804" y="1427" width="41" height="39" fill="#08b5d0"/>
<rect x="1845" y="1427" width="43" height="39" fill="#18bfb6"/>
<rect x="197" y="1466" width="43" height="39" fill="#20c1b1"/>
<rect x="240" y="1466" width="41" height="39" fill="#08b5d0"/>
<rect x="281" y="1466" width="86" height="39" fill="#0ebebb"/>
<rect x="367" y="1466" width="41" height="39" fill="#03bbc2"/>
<rect x="408" y="1466" width="43" height="39" fill="#24c1ae"/>
<rect x="451" y="1466" width="43" height="39" fill="#0fb2d4"/>
<rect x="494" y="1466" width="41" height="39" fill="#13beb8"/>
<rect x="535" y="1466" width="43" height="39" fill="#17aeda"/>
<rect x="578" y="1466" width="41" height="39" fill="#08b5d0"/>
<rect x="619" y="1466" width="43" height="39" fill="#20c1b1"/>
<rect x="662" y="1466" width="43" height="39" fill="#31c5a1"/>
<rect x="705" y="1466" width="41" height="39" fill="#1ea7e1"/>
<rect x="746" y="1466" width="43" height="39" fill="#1caadf"/>
<rect x="789" y="1466" width="43" height="39" fill="#31c5a1"/>
<rect x="832" y="1466" width="40" height="39" fill="#33c69e"/>
<rect x="872" y="1466" width="43" height="39" fill="#0fb2d4"/>
<rect x="915" y="1466" width="44" height="39" fill="#18bfb6"/>
<rect x="959" y="1466" width="40" height="39" fill="#03bbc2"/>
<rect x="999" y="1466" width="43" height="39" fill="#13beb8"/>
<rect x="1042" y="1466" width="84" height="39" fill="#463adb"/>
<rect x="1126" y="1466" width="43" height="39" fill="#37c898"/>
<rect x="1169" y="1466" width="43" height="39" fill="#12b1d6"/>
<rect x="1212" y="1466" width="84" height="39" fill="#20c1b1"/>
<rect x="1296" y="1466" width="43" height="39" fill="#2dc4a6"/>
<rect x="1339" y="1466" width="41" height="39" fill="#05b6ce"/>
<rect x="1380" y="1466" width="43" height="39" fill="#13beb8"/>
<rect x="1423" y="1466" width="84" height="39" fill="#01b9c7"/>
<rect x="1507" y="1466" width="43" height="39" fill="#33c69e"/>
<rect x="1550" y="1466" width="41" height="39" fill="#0ebebb"/>
<rect x="1591" y="1466" width="43" height="39" fill="#0fb2d4"/>
<rect x="1634" y="1466" width="43" height="39" fill="#31c5a1"/>
<rect x="1677" y="1466" width="41" height="39" fill="#18bfb6"/>
<rect x="1718" y="1466" width="43" height="39" fill="#2dc4a6"/>
<rect x="1761" y="1466" width="43" height="39" fill="#05b6ce"/>
<rect x="1804" y="1466" width="41" height="39" fill="#1da8e0"/>
<rect x="1845" y="1466" width="43" height="39" fill="#18bfb6"/>
<rect x="197" y="1505" width="43" height="42" fill="#22a2e4"/>
<rect x="240" y="1505" width="41" height="42" fill="#14b0d8"/>
<rect x="281" y="1505" width="43" height="42" fill="#37c898"/>
<rect x="324" y="1505" width="43" height="42" fill="#01b9c7"/>
<rect x="367" y="1505" width="41" height="42" fill="#33c69e"/>
<rect x="408" y="1505" width="43" height="42" fill="#2fc5a3"/>
<rect x="451" y="1505" width="43" height="42" fill="#1aabdd"/>
<rect x="494" y="1505" width="41" height="42" fill="#0abdbd"/>
<rect x="535" y="1505" width="43" height="42" fill="#20c1b1"/>
<rect x="578" y="1505" width="84" height="42" fill="#01b9c7"/>
<rect x="662" y="1505" width="43" height="42" fill="#0bb3d2"/>
<rect x="705" y="1505" width="41" height="42" fill="#33c69e"/>
<rect x="746" y="1505" width="43" height="42" fill="#31c5a1"/>
<rect x="789" y="1505" width="43" height="42" fill="#18bfb6"/>
<rect x="832" y="1505" width="40" height="42" fill="#2fc5a3"/>
<rect x="872" y="1505" width="43" height="42" fill="#01b9c7"/>
<rect x="915" y="1505" width="44" height="42" fill="#20a5e2"/>
<rect x="959" y="1505" width="40" height="42" fill="#1cc0b3"/>
<rect x="999" y="1505" width="43" height="42" fill="#39c994"/>
<rect x="1042" y="1505" width="84" height="42" fill="#4368fe"/>
<rect x="1126" y="1505" width="43" height="42" fill="#01b8c9"/>
<rect x="1169" y="1505" width="43" height="42" fill="#1da8e0"/>
<rect x="1212" y="1505" width="41" height="42" fill="#12b1d6"/>
<rect x="1253" y="1505" width="43" height="42" fill="#0fb2d4"/>
<rect x="1296" y="1505" width="43" height="42" fill="#24c1ae"/>
<rect x="1339" y="1505" width="41" height="42" fill="#27c2ab"/>
<rect x="1380" y="1505" width="43" height="42" fill="#20c1b1"/>
<rect x="1423" y="1505" width="41" height="42" fill="#3cc991"/>
<rect x="1464" y="1505" width="43" height="42" fill="#13beb8"/>
<rect x="1507" y="1505" width="43" height="42" fill="#20c1b1"/>
<rect x="1550" y="1505" width="41" height="42" fill="#2fc5a3"/>
<rect x="1591" y="1505" width="43" height="42" fill="#20c1b1"/>
<rect x="1634" y="1505" width="43" height="42" fill="#35c79b"/>
<rect x="1677" y="1505" width="41" height="42" fill="#0ebebb"/>
<rect x="1718" y="1505" width="43" height="42" fill="#03bbc2"/>
<rect x="1761" y="1505" width="43" height="42" fill="#3cc991"/>
<rect x="1804" y="1505" width="41" height="42" fill="#02bac5"/>
<rect x="1845" y="1505" width="43" height="42" fill="#2fc5a3"/>
<rect x="197" y="1547" width="43" height="39" fill="#35c79b"/>
<rect x="240" y="1547" width="41" height="39" fill="#20c1b1"/>
<rect x="281" y="1547" width="43" height="39" fill="#307efb"/>
<rect x="324" y="1547" width="43" height="39" fill="#20c1b1"/>
<rect x="367" y="1547" width="41" height="39" fill="#03b7cc"/>
<rect x="408" y="1547" width="43" height="39" fill="#24c1ae"/>
<rect x="451" y="1547" width="43" height="39" fill="#05b6ce"/>
<rect x="494" y="1547" width="41" height="39" fill="#0abdbd"/>
<rect x="535" y="1547" width="43" height="39" fill="#18bfb6"/>
<rect x="578" y="1547" width="41" height="39" fill="#31c5a1"/>
<rect x="619" y="1547" width="86" height="39" fill="#02bac5"/>
<rect x="705" y="1547" width="41" height="39" fill="#2fc5a3"/>
<rect x="746" y="1547" width="43" height="39" fill="#2896ec"/>
<rect x="789" y="1547" width="43" height="39" fill="#2fc5a3"/>
<rect x="832" y="1547" width="40" height="39" fill="#3c71ff"/>
<rect x="872" y="1547" width="43" height="39" fill="#03b7cc"/>
<rect x="915" y="1547" width="44" height="39" fill="#24c1ae"/>
<rect x="959" y="1547" width="40" height="39" fill="#2dc4a6"/>
<rect x="999" y="1547" width="43" height="39" fill="#39c994"/>
<rect x="1042" y="1547" width="84" height="39" fill="#4368fe"/>
<rect x="1126" y="1547" width="43" height="39" fill="#02bac5"/>
<rect x="1169" y="1547" width="43" height="39" fill="#1aabdd"/>
<rect x="1212" y="1547" width="41" height="39" fill="#27c2ab"/>
<rect x="1253" y="1547" width="127" height="39" fill="#13beb8"/>
<rect x="1380" y="1547" width="43" height="39" fill="#01b9c7"/>
<rect x="1423" y="1547" width="41" height="39" fill="#03b7cc"/>
<rect x="1464" y="1547" width="43" height="39" fill="#02bac5"/>
<rect x="1507" y="1547" width="43" height="39" fill="#0bb3d2"/>
<rect x="1550" y="1547" width="41" height="39" fill="#27c2ab"/>
<rect x="1591" y="1547" width="43" height="39" fill="#03bbc2"/>
<rect x="1634" y="1547" width="43" height="39" fill="#19addc"/>
<rect x="1677" y="1547" width="84" height="39" fill="#20c1b1"/>
<rect x="1761" y="1547" width="43" height="39" fill="#14b0d8"/>
<rect x="1804" y="1547" width="41" height="39" fill="#2dc4a6"/>
<rect x="1845" y="1547" width="43" height="39" fill="#02bac5"/>
<rect x="197" y="1586" width="43" height="39" fill="#03b7cc"/>
<rect x="240" y="1586" width="41" height="39" fill="#37c898"/>
<rect x="281" y="1586" width="43" height="39" fill="#20c1b1"/>
<rect x="324" y="1586" width="43" height="39" fill="#37c898"/>
<rect x="367" y="1586" width="41" height="39" fill="#33c69e"/>
<rect x="408" y="1586" width="43" height="39" fill="#03b7cc"/>
<rect x="451" y="1586" width="43" height="39" fill="#20c1b1"/>
<rect x="494" y="1586" width="41" height="39" fill="#22a2e4"/>
<rect x="535" y="1586" width="43" height="39" fill="#01b9c7"/>
<rect x="578" y="1586" width="41" height="39" fill="#3cc991"/>
<rect x="619" y="1586" width="43" height="39" fill="#03b7cc"/>
<rect x="662" y="1586" width="43" height="39" fill="#23a0e5"/>
<rect x="705" y="1586" width="41" height="39" fill="#0ebebb"/>
<rect x="746" y="1586" width="43" height="39" fill="#0bb3d2"/>
<rect x="789" y="1586" width="43" height="39" fill="#20c1b1"/>
<rect x="832" y="1586" width="40" height="39" fill="#23a0e5"/>
<rect x="872" y="1586" width="43" height="39" fill="#27c2ab"/>
<rect x="915" y="1586" width="44" height="39" fill="#12b1d6"/>
<rect x="959" y="1586" width="40" height="39" fill="#2d8af4"/>
<rect x="999" y="1586" width="43" height="39" fill="#37c898"/>
<rect x="1042" y="1586" width="84" height="39" fill="#4562fc"/>
<rect x="1126" y="1586" width="43" height="39" fill="#27c2ab"/>
<rect x="1169" y="1586" width="43" height="39" fill="#13beb8"/>
<rect x="1212" y="1586" width="41" height="39" fill="#2dc4a6"/>
<rect x="1253" y="1586" width="43" height="39" fill="#13beb8"/>
<rect x="1296" y="1586" width="43" height="39" fill="#03b7cc"/>
<rect x="1339" y="1586" width="41" height="39" fill="#50cc80"/>
<rect x="1380" y="1586" width="43" height="39" fill="#03b7cc"/>
<rect x="1423" y="1586" width="41" height="39" fill="#1da8e0"/>
<rect x="1464" y="1586" width="43" height="39" fill="#20a5e2"/>
<rect x="1507" y="1586" width="43" height="39" fill="#03b7cc"/>
<rect x="1550" y="1586" width="41" height="39" fill="#2dc4a6"/>
<rect x="1591" y="1586" width="43" height="39" fill="#03bbc2"/>
<rect x="1634" y="1586" width="43" height="39" fill="#13beb8"/>
<rect x="1677" y="1586" width="41" height="39" fill="#0abdbd"/>
<rect x="1718" y="1586" width="43" height="39" fill="#18bfb6"/>
<rect x="1761" y="1586" width="43" height="39" fill="#3cc991"/>
<rect x="1804" y="1586" width="41" height="39" fill="#24c1ae"/>
<rect x="1845" y="1586" width="43" height="39" fill="#02bac5"/>
</g>
<rect x="1958.0" y="44.4" width="148.5" height="1580.1" fill="url(#pg)"/>
<g fill="#262626" shape-rendering="crispEdges">
<rect x="195.00" y="1605.00" width="6.00" height="20.00"/>
<rect x="195.00" y="44.00" width="6.00" height="20.00"/>
<rect x="491.00" y="1605.00" width="6.00" height="20.00"/>
<rect x="491.00" y="44.00" width="6.00" height="20.00"/>
<rect x="787.00" y="1605.00" width="6.00" height="20.00"/>
<rect x="787.00" y="44.00" width="6.00" height="20.00"/>
<rect x="1083.00" y="1605.00" width="6.00" height="20.00"/>
<rect x="1083.00" y="44.00" width="6.00" height="20.00"/>
<rect x="1379.00" y="1605.00" width="6.00" height="20.00"/>
<rect x="1379.00" y="44.00" width="6.00" height="20.00"/>
<rect x="1675.00" y="1605.00" width="6.00" height="20.00"/>
<rect x="1675.00" y="44.00" width="6.00" height="20.00"/>
<rect x="197.00" y="1559.00" width="20.00" height="5.00"/>
<rect x="1868.00" y="1559.00" width="20.00" height="5.00"/>
<rect x="197.00" y="1398.00" width="20.00" height="5.00"/>
<rect x="1868.00" y="1398.00" width="20.00" height="5.00"/>
<rect x="197.00" y="1236.00" width="20.00" height="5.00"/>
<rect x="1868.00" y="1236.00" width="20.00" height="5.00"/>
<rect x="197.00" y="1074.00" width="20.00" height="5.00"/>
<rect x="1868.00" y="1074.00" width="20.00" height="5.00"/>
<rect x="197.00" y="912.00" width="20.00" height="5.00"/>
<rect x="1868.00" y="912.00" width="20.00" height="5.00"/>
<rect x="197.00" y="750.00" width="20.00" height="5.00"/>
<rect x="1868.00" y="750.00" width="20.00" height="5.00"/>
<rect x="197.00" y="589.00" width="20.00" height="5.00"/>
<rect x="1868.00" y="589.00" width="20.00" height="5.00"/>
<rect x="197.00" y="427.00" width="20.00" height="5.00"/>
<rect x="1868.00" y="427.00" width="20.00" height="5.00"/>
<rect x="197.00" y="265.00" width="20.00" height="5.00"/>
<rect x="1868.00" y="265.00" width="20.00" height="5.00"/>
<rect x="197.00" y="103.00" width="20.00" height="5.00"/>
<rect x="1868.00" y="103.00" width="20.00" height="5.00"/>
<rect x="2088.00" y="1489.00" width="18.00" height="5.00"/>
<rect x="2088.00" y="1308.00" width="18.00" height="5.00"/>
<rect x="2088.00" y="1128.00" width="18.00" height="5.00"/>
<rect x="2088.00" y="947.00" width="18.00" height="5.00"/>
<rect x="2088.00" y="766.00" width="18.00" height="5.00"/>
<rect x="2088.00" y="586.00" width="18.00" height="5.00"/>
<rect x="2088.00" y="405.00" width="18.00" height="5.00"/>
<rect x="2088.00" y="225.00" width="18.00" height="5.00"/>
<rect x="2088.00" y="44.00" width="18.00" height="5.00"/>
<rect x="194.00" y="42.05" width="6.00" height="1584.80"/>
<rect x="1885.00" y="42.05" width="6.00" height="1584.80"/>
<rect x="194.00" y="42.05" width="1697.00" height="4.70"/>
<rect x="194.00" y="1622.15" width="1697.00" height="4.70"/>
<rect x="1955.00" y="42.05" width="6.00" height="1584.80"/>
<rect x="2104.30" y="42.05" width="4.75" height="1584.80"/>
<rect x="1955.00" y="42.05" width="154.05" height="4.70"/>
<rect x="1955.00" y="1622.15" width="154.05" height="4.70"/>
</g>
<g class="t">
<text transform="translate(196.6 1711.2) scale(1 1.020)" text-anchor="middle">-300</text>
<text transform="translate(492.6 1711.2) scale(1 1.020)" text-anchor="middle">-200</text>
<text transform="translate(788.6 1711.2) scale(1 1.020)" text-anchor="middle">-100</text>
<text transform="translate(1084.6 1711.2) scale(1 1.020)" text-anchor="middle">0</text>
<text transform="translate(1380.6 1711.2) scale(1 1.020)" text-anchor="middle">100</text>
<text transform="translate(1676.6 1711.2) scale(1 1.020)" text-anchor="middle">200</text>
<text transform="translate(182.4 1590.3) scale(1 1.020)" text-anchor="end">12</text>
<text transform="translate(182.4 1428.5) scale(1 1.020)" text-anchor="end">14</text>
<text transform="translate(182.4 1266.7) scale(1 1.020)" text-anchor="end">16</text>
<text transform="translate(182.4 1104.9) scale(1 1.020)" text-anchor="end">18</text>
<text transform="translate(182.4 943.1) scale(1 1.020)" text-anchor="end">20</text>
<text transform="translate(182.4 781.3) scale(1 1.020)" text-anchor="end">22</text>
<text transform="translate(182.4 619.5) scale(1 1.020)" text-anchor="end">24</text>
<text transform="translate(182.4 457.7) scale(1 1.020)" text-anchor="end">26</text>
<text transform="translate(182.4 295.9) scale(1 1.020)" text-anchor="end">28</text>
<text transform="translate(182.4 134.1) scale(1 1.020)" text-anchor="end">30</text>
<text transform="translate(2138.5 75.2) scale(1 1.020)">30</text>
<text transform="translate(2138.5 255.8) scale(1 1.020)">20</text>
<text transform="translate(2138.5 436.5) scale(1 1.020)">10</text>
<text transform="translate(2138.5 617.1) scale(1 1.020)">0</text>
<text transform="translate(2138.5 797.7) scale(1 1.020)">-10</text>
<text transform="translate(2138.5 978.3) scale(1 1.020)">-20</text>
<text transform="translate(2138.5 1159.0) scale(1 1.020)">-30</text>
<text transform="translate(2138.5 1339.6) scale(1 1.020)">-40</text>
<text transform="translate(2138.5 1520.2) scale(1 1.020)">-50</text>
</g>
<g class="l">
<text transform="translate(1042.4 1796.0) scale(1 0.975)" text-anchor="middle">Doppler (Hz)</text>
<text transform="translate(83.50 997.20) rotate(-90) scale(1 0.975)">Delay <tspan x="195.20">(</tspan><tspan class="i" x="222.60" textLength="44.15" lengthAdjust="spacingAndGlyphs">μ</tspan><tspan class="i" x="269.60" textLength="25.96" lengthAdjust="spacingAndGlyphs">s</tspan><tspan x="297.30">)</tspan></text>
<text transform="translate(2336.0 836.9) rotate(-90) scale(1 0.975)" text-anchor="middle">Power (dB)</text>
</g>
</svg>
</body></html>
